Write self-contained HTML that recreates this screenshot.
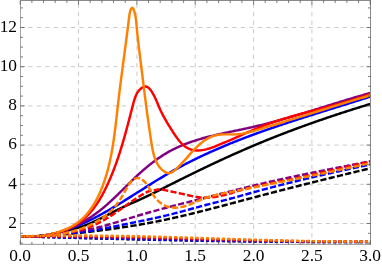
<!DOCTYPE html>
<html><head><meta charset="utf-8"><style>html,body{margin:0;padding:0;background:#fff}svg{display:block}</style></head><body><svg width="382" height="266" viewBox="0 0 382 266">
<rect width="382" height="266" fill="#fff"/>
<path d="M78.5,-4.9V244.5M136.9,-4.9V244.5M195.2,-4.9V244.5M253.6,-4.9V244.5M311.9,-4.9V244.5" stroke="#cacaca" stroke-width="1" stroke-dasharray="4.25 4.25" fill="none"/>
<path d="M19.8,223.5H370.5M19.8,184.3H370.5M19.8,145.1H370.5M19.8,105.9H370.5M19.8,66.7H370.5M19.8,27.5H370.5" stroke="#cacaca" stroke-width="1" stroke-dasharray="4.25 4.25" fill="none"/>
<clipPath id="c"><rect x="20.5" y="0.5" width="350.0" height="244.0"/></clipPath>
<g clip-path="url(#c)" fill="none" stroke-linejoin="round">
<path d="M20.50,236.40L21.45,236.44L22.40,236.48L23.35,236.51L24.30,236.54L25.25,236.57L26.19,236.59L27.14,236.60L28.09,236.61L29.03,236.61L29.98,236.61L30.92,236.60L31.86,236.58L32.81,236.55L33.75,236.52L34.69,236.48L35.63,236.43L36.56,236.37L37.50,236.30L38.44,236.23L39.37,236.14L40.30,236.05L41.23,235.94L42.16,235.83L43.09,235.70L44.02,235.56L44.94,235.41L45.87,235.25L46.79,235.08L47.71,234.91L48.63,234.72L49.55,234.53L50.47,234.34L51.39,234.14L52.31,233.94L53.23,233.74L54.15,233.54L55.07,233.33L55.99,233.13L56.91,232.92L57.84,232.72L58.76,232.51L59.68,232.31L60.60,232.11L61.53,231.90L62.45,231.70L63.37,231.50L64.30,231.30L65.22,231.09L66.15,230.89L67.07,230.68L67.99,230.47L68.91,230.26L69.83,230.04L70.75,229.82L71.67,229.60L72.59,229.37L73.50,229.13L74.41,228.89L75.32,228.64L76.23,228.39L77.14,228.12L78.04,227.85L78.94,227.58L79.84,227.29L80.74,226.99L81.63,226.69L82.52,226.38L83.41,226.06L84.29,225.73L85.17,225.40L86.05,225.06L86.93,224.71L87.81,224.36L88.68,224.00L89.55,223.63L90.42,223.26L91.28,222.88L92.15,222.50L93.01,222.11L93.87,221.72L94.72,221.32L95.58,220.92L96.43,220.52L97.29,220.11L98.14,219.70L98.98,219.28L99.83,218.86L100.68,218.44L101.52,218.02L102.36,217.59L103.20,217.17L104.04,216.74L104.88,216.30L105.72,215.87L106.55,215.44L107.39,215.00L108.23,214.57L109.06,214.13L109.90,213.70L110.74,213.26L111.57,212.83L112.41,212.39L113.24,211.96L114.08,211.53L114.92,211.10L115.76,210.67L116.60,210.25L117.44,209.82L118.28,209.40L119.13,208.98L119.98,208.57L120.82,208.16L121.67,207.75L122.52,207.34L123.38,206.94L124.23,206.55L125.09,206.15L125.95,205.76L126.81,205.37L127.67,204.99L128.54,204.60L129.40,204.22L130.26,203.84L131.13,203.46L131.99,203.08L132.86,202.70L133.72,202.32L134.59,201.94L135.46,201.56L136.32,201.18L137.18,200.79L138.05,200.41L138.91,200.02L139.77,199.64L140.63,199.25L141.49,198.85L142.35,198.46L143.21,198.06L144.06,197.67L144.92,197.26L145.77,196.86L146.63,196.46L147.48,196.05L148.33,195.64L149.18,195.23L150.03,194.82L150.88,194.41L151.73,193.99L152.57,193.58L153.42,193.16L154.27,192.74L155.11,192.33L155.96,191.91L156.80,191.48L157.65,191.06L158.49,190.64L159.33,190.22L160.18,189.79L161.02,189.37L161.86,188.94L162.70,188.52L163.55,188.09L164.39,187.66L165.23,187.24L166.07,186.81L166.91,186.39L167.76,185.96L168.60,185.53L169.44,185.11L170.28,184.68L171.13,184.26L171.97,183.83L172.81,183.41L173.66,182.98L174.50,182.56L175.34,182.13L176.19,181.71L177.03,181.29L177.87,180.86L178.72,180.44L179.56,180.02L180.41,179.60L181.25,179.18L182.10,178.76L182.94,178.34L183.79,177.92L184.64,177.50L185.48,177.08L186.33,176.66L187.17,176.24L188.02,175.82L188.87,175.41L189.72,174.99L190.56,174.57L191.41,174.16L192.26,173.74L193.11,173.33L193.96,172.91L194.80,172.50L195.65,172.08L196.50,171.67L197.35,171.26L198.20,170.85L199.05,170.43L199.90,170.02L200.75,169.61L201.60,169.20L202.45,168.79L203.30,168.38L204.16,167.98L205.01,167.57L205.86,167.16L206.71,166.75L207.56,166.35L208.42,165.94L209.27,165.54L210.12,165.13L210.98,164.73L211.83,164.33L212.68,163.92L213.54,163.52L214.39,163.12L215.25,162.72L216.10,162.32L216.96,161.92L217.81,161.52L218.67,161.12L219.53,160.73L220.38,160.33L221.24,159.93L222.10,159.54L222.96,159.14L223.81,158.75L224.67,158.35L225.53,157.96L226.39,157.57L227.25,157.18L228.11,156.79L228.97,156.40L229.83,156.01L230.69,155.62L231.55,155.23L232.41,154.84L233.27,154.46L234.13,154.07L234.99,153.69L235.86,153.30L236.72,152.92L237.58,152.53L238.45,152.15L239.31,151.77L240.17,151.39L241.04,151.01L241.90,150.63L242.77,150.25L243.63,149.88L244.50,149.50L245.36,149.12L246.23,148.75L247.10,148.37L247.96,148.00L248.83,147.63L249.70,147.26L250.57,146.89L251.44,146.52L252.30,146.15L253.17,145.78L254.04,145.41L254.91,145.04L255.78,144.68L256.65,144.31L257.52,143.95L258.40,143.59L259.27,143.22L260.14,142.86L261.01,142.50L261.88,142.14L262.76,141.78L263.63,141.43L264.50,141.07L265.38,140.71L266.25,140.36L267.13,140.00L268.00,139.65L268.88,139.29L269.75,138.94L270.63,138.59L271.51,138.24L272.38,137.89L273.26,137.54L274.14,137.19L275.02,136.85L275.89,136.50L276.77,136.15L277.65,135.81L278.53,135.46L279.41,135.12L280.29,134.78L281.17,134.44L282.05,134.10L282.93,133.75L283.81,133.42L284.69,133.08L285.58,132.74L286.46,132.40L287.34,132.07L288.22,131.73L289.10,131.40L289.99,131.06L290.87,130.73L291.76,130.40L292.64,130.06L293.52,129.73L294.41,129.40L295.29,129.07L296.18,128.74L297.06,128.42L297.95,128.09L298.84,127.76L299.72,127.44L300.61,127.11L301.50,126.79L302.38,126.47L303.27,126.14L304.16,125.82L305.05,125.50L305.93,125.18L306.82,124.86L307.71,124.54L308.60,124.22L309.49,123.90L310.38,123.59L311.27,123.27L312.16,122.96L313.05,122.64L313.94,122.33L314.83,122.02L315.72,121.70L316.61,121.39L317.51,121.08L318.40,120.77L319.29,120.46L320.18,120.15L321.07,119.84L321.97,119.54L322.86,119.23L323.75,118.92L324.65,118.62L325.54,118.31L326.44,118.01L327.33,117.70L328.22,117.40L329.12,117.10L330.01,116.80L330.91,116.50L331.80,116.20L332.70,115.90L333.60,115.60L334.49,115.30L335.39,115.00L336.29,114.71L337.18,114.41L338.08,114.12L338.98,113.82L339.87,113.53L340.77,113.23L341.67,112.94L342.57,112.65L343.47,112.36L344.36,112.07L345.26,111.78L346.16,111.49L347.06,111.20L347.96,110.91L348.86,110.62L349.76,110.34L350.66,110.05L351.56,109.76L352.46,109.48L353.36,109.19L354.26,108.91L355.16,108.63L356.06,108.34L356.96,108.06L357.86,107.78L358.77,107.50L359.67,107.22L360.57,106.94L361.47,106.66L362.37,106.38L363.28,106.11L364.18,105.83L365.08,105.55L365.99,105.28L366.89,105.00L367.79,104.73L368.70,104.45L369.60,104.18L370.50,103.91" stroke="#000000" stroke-width="2.45"/>
<path d="M20.48,236.41L21.46,236.47L22.45,236.53L23.43,236.57L24.41,236.61L25.39,236.63L26.37,236.65L27.34,236.66L28.31,236.66L29.28,236.65L30.25,236.64L31.22,236.61L32.18,236.57L33.14,236.53L34.10,236.48L35.06,236.42L36.01,236.35L36.97,236.28L37.92,236.19L38.87,236.10L39.81,236.00L40.76,235.89L41.70,235.77L42.64,235.65L43.58,235.52L44.52,235.38L45.46,235.23L46.39,235.08L47.32,234.92L48.25,234.75L49.18,234.58L50.10,234.39L51.03,234.20L51.95,234.01L52.87,233.81L53.79,233.60L54.70,233.38L55.62,233.16L56.53,232.93L57.44,232.69L58.35,232.45L59.26,232.20L60.17,231.95L61.07,231.68L61.97,231.42L62.87,231.14L63.77,230.87L64.67,230.58L65.57,230.29L66.46,230.00L67.35,229.69L68.24,229.39L69.13,229.08L70.02,228.76L70.91,228.44L71.79,228.11L72.67,227.77L73.55,227.44L74.43,227.09L75.31,226.75L76.19,226.39L77.06,226.04L77.94,225.67L78.81,225.31L79.68,224.94L80.55,224.56L81.42,224.18L82.28,223.80L83.15,223.41L84.01,223.02L84.87,222.63L85.73,222.23L86.59,221.82L87.45,221.42L88.30,221.01L89.16,220.59L90.01,220.17L90.86,219.75L91.71,219.33L92.56,218.90L93.41,218.47L94.26,218.04L95.10,217.60L95.95,217.16L96.79,216.72L97.63,216.27L98.47,215.82L99.31,215.37L100.15,214.92L100.99,214.46L101.82,214.01L102.66,213.55L103.49,213.08L104.32,212.62L105.16,212.15L105.99,211.68L106.81,211.21L107.64,210.74L108.47,210.26L109.30,209.78L110.12,209.30L110.95,208.82L111.77,208.34L112.59,207.86L113.41,207.37L114.24,206.88L115.06,206.39L115.88,205.90L116.70,205.41L117.51,204.91L118.33,204.42L119.15,203.92L119.96,203.43L120.78,202.93L121.60,202.43L122.41,201.92L123.22,201.42L124.04,200.92L124.85,200.41L125.66,199.91L126.48,199.40L127.29,198.90L128.10,198.39L128.91,197.88L129.72,197.37L130.53,196.86L131.34,196.35L132.15,195.84L132.96,195.33L133.77,194.82L134.58,194.31L135.39,193.80L136.20,193.29L137.01,192.77L137.82,192.26L138.63,191.75L139.44,191.24L140.25,190.72L141.06,190.21L141.87,189.70L142.67,189.19L143.48,188.68L144.29,188.16L145.10,187.65L145.91,187.14L146.72,186.63L147.53,186.12L148.35,185.62L149.16,185.11L149.97,184.60L150.78,184.09L151.59,183.59L152.40,183.08L153.22,182.58L154.03,182.07L154.84,181.57L155.66,181.07L156.47,180.57L157.29,180.07L158.10,179.57L158.92,179.07L159.74,178.58L160.56,178.09L161.37,177.59L162.19,177.10L163.01,176.61L163.83,176.12L164.66,175.64L165.48,175.15L166.30,174.67L167.12,174.19L167.95,173.71L168.77,173.23L169.60,172.75L170.43,172.28L171.26,171.81L172.09,171.34L172.92,170.87L173.75,170.41L174.58,169.94L175.41,169.48L176.25,169.02L177.08,168.56L177.92,168.11L178.76,167.65L179.59,167.20L180.43,166.75L181.27,166.30L182.11,165.85L182.95,165.41L183.80,164.97L184.64,164.52L185.48,164.09L186.33,163.65L187.17,163.21L188.02,162.78L188.87,162.35L189.72,161.92L190.57,161.49L191.42,161.06L192.27,160.63L193.12,160.21L193.97,159.79L194.82,159.37L195.68,158.95L196.53,158.53L197.39,158.12L198.24,157.71L199.10,157.30L199.96,156.89L200.82,156.48L201.68,156.07L202.54,155.66L203.40,155.26L204.26,154.86L205.12,154.46L205.99,154.06L206.85,153.66L207.71,153.27L208.58,152.87L209.44,152.48L210.31,152.09L211.18,151.70L212.05,151.31L212.92,150.93L213.79,150.54L214.66,150.16L215.53,149.77L216.40,149.39L217.27,149.01L218.14,148.64L219.02,148.26L219.89,147.89L220.76,147.51L221.64,147.14L222.52,146.77L223.39,146.40L224.27,146.03L225.15,145.66L226.03,145.30L226.91,144.93L227.79,144.57L228.67,144.21L229.55,143.85L230.43,143.49L231.31,143.13L232.19,142.78L233.08,142.42L233.96,142.07L234.84,141.71L235.73,141.36L236.61,141.01L237.50,140.66L238.39,140.31L239.27,139.97L240.16,139.62L241.05,139.28L241.94,138.93L242.82,138.59L243.71,138.25L244.60,137.91L245.49,137.57L246.38,137.23L247.28,136.90L248.17,136.56L249.06,136.23L249.95,135.89L250.85,135.56L251.74,135.23L252.63,134.90L253.53,134.57L254.42,134.24L255.32,133.91L256.21,133.58L257.11,133.26L258.01,132.93L258.90,132.61L259.80,132.29L260.70,131.96L261.60,131.64L262.49,131.32L263.39,131.00L264.29,130.69L265.19,130.37L266.09,130.05L266.99,129.74L267.89,129.42L268.79,129.11L269.70,128.79L270.60,128.48L271.50,128.17L272.40,127.86L273.30,127.55L274.21,127.24L275.11,126.93L276.01,126.62L276.92,126.31L277.82,126.01L278.73,125.70L279.63,125.40L280.53,125.09L281.44,124.79L282.35,124.48L283.25,124.18L284.16,123.88L285.06,123.58L285.97,123.28L286.88,122.98L287.78,122.68L288.69,122.38L289.60,122.08L290.50,121.78L291.41,121.49L292.32,121.19L293.23,120.89L294.14,120.60L295.04,120.30L295.95,120.01L296.86,119.72L297.77,119.42L298.68,119.13L299.59,118.84L300.50,118.54L301.41,118.25L302.32,117.96L303.23,117.67L304.14,117.38L305.05,117.09L305.96,116.80L306.87,116.51L307.78,116.22L308.69,115.93L309.60,115.65L310.51,115.36L311.42,115.07L312.33,114.78L313.24,114.50L314.15,114.21L315.06,113.92L315.97,113.64L316.88,113.35L317.79,113.07L318.70,112.78L319.62,112.50L320.53,112.21L321.44,111.93L322.35,111.64L323.26,111.36L324.17,111.07L325.08,110.79L325.99,110.51L326.90,110.22L327.81,109.94L328.73,109.66L329.64,109.37L330.55,109.09L331.46,108.81L332.37,108.52L333.28,108.24L334.19,107.96L335.10,107.68L336.01,107.39L336.92,107.11L337.83,106.83L338.74,106.54L339.65,106.26L340.56,105.98L341.47,105.70L342.38,105.41L343.29,105.13L344.20,104.85L345.11,104.57L346.02,104.28L346.93,104.00L347.84,103.72L348.75,103.43L349.66,103.15L350.57,102.87L351.47,102.58L352.38,102.30L353.29,102.02L354.20,101.73L355.11,101.45L356.01,101.16L356.92,100.88L357.83,100.59L358.74,100.31L359.64,100.02L360.55,99.74L361.46,99.45L362.36,99.17L363.27,98.88L364.17,98.59L365.08,98.31L365.98,98.02L366.89,97.73L367.79,97.44L368.70,97.16L369.60,96.87L370.50,96.58" stroke="#0000ff" stroke-width="2.45"/>
<path d="M20.48,236.38L21.48,236.47L22.47,236.55L23.47,236.62L24.46,236.68L25.45,236.73L26.44,236.77L27.43,236.80L28.42,236.82L29.40,236.83L30.39,236.82L31.37,236.81L32.35,236.79L33.33,236.76L34.30,236.72L35.28,236.66L36.25,236.60L37.22,236.53L38.19,236.45L39.16,236.36L40.12,236.26L41.09,236.15L42.05,236.03L43.01,235.91L43.96,235.77L44.92,235.62L45.87,235.47L46.82,235.30L47.77,235.13L48.72,234.95L49.66,234.76L50.60,234.56L51.54,234.35L52.48,234.13L53.41,233.91L54.35,233.67L55.28,233.43L56.20,233.18L57.13,232.92L58.05,232.65L58.97,232.38L59.89,232.10L60.81,231.80L61.72,231.50L62.63,231.20L63.53,230.88L64.44,230.56L65.34,230.23L66.24,229.89L67.14,229.54L68.03,229.19L68.92,228.82L69.81,228.46L70.69,228.08L71.57,227.70L72.45,227.31L73.33,226.91L74.20,226.50L75.07,226.09L75.94,225.67L76.80,225.24L77.66,224.81L78.52,224.37L79.37,223.92L80.22,223.47L81.07,223.01L81.91,222.54L82.76,222.07L83.59,221.59L84.43,221.11L85.26,220.61L86.09,220.12L86.91,219.61L87.73,219.10L88.55,218.58L89.36,218.06L90.17,217.53L90.98,217.00L91.78,216.46L92.58,215.91L93.37,215.36L94.16,214.80L94.95,214.24L95.74,213.67L96.52,213.10L97.29,212.52L98.07,211.94L98.83,211.35L99.60,210.75L100.36,210.15L101.12,209.55L101.87,208.94L102.62,208.33L103.37,207.71L104.11,207.08L104.85,206.46L105.58,205.83L106.32,205.19L107.05,204.55L107.78,203.91L108.50,203.26L109.22,202.61L109.94,201.96L110.66,201.30L111.37,200.64L112.09,199.98L112.80,199.32L113.51,198.65L114.21,197.98L114.92,197.31L115.62,196.63L116.33,195.96L117.03,195.28L117.73,194.60L118.43,193.92L119.12,193.24L119.82,192.56L120.52,191.87L121.21,191.19L121.91,190.50L122.60,189.81L123.30,189.13L123.99,188.44L124.69,187.75L125.38,187.06L126.08,186.37L126.77,185.69L127.47,185.00L128.17,184.31L128.86,183.63L129.56,182.94L130.26,182.26L130.96,181.57L131.66,180.89L132.36,180.21L133.07,179.53L133.77,178.85L134.48,178.18L135.18,177.50L135.90,176.83L136.61,176.16L137.32,175.50L138.04,174.83L138.76,174.17L139.48,173.51L140.20,172.85L140.93,172.20L141.66,171.55L142.39,170.90L143.12,170.26L143.86,169.62L144.60,168.99L145.34,168.35L146.09,167.72L146.83,167.10L147.59,166.48L148.34,165.86L149.10,165.25L149.86,164.64L150.62,164.04L151.38,163.44L152.15,162.85L152.92,162.26L153.70,161.68L154.47,161.10L155.26,160.52L156.04,159.95L156.82,159.39L157.61,158.83L158.41,158.28L159.20,157.73L160.00,157.19L160.80,156.66L161.61,156.13L162.42,155.61L163.23,155.09L164.04,154.58L164.86,154.08L165.68,153.58L166.51,153.09L167.33,152.60L168.16,152.13L169.00,151.66L169.84,151.19L170.68,150.74L171.52,150.29L172.37,149.85L173.22,149.41L174.08,148.98L174.93,148.56L175.79,148.15L176.66,147.74L177.52,147.34L178.39,146.94L179.27,146.55L180.14,146.17L181.02,145.79L181.90,145.42L182.79,145.06L183.67,144.70L184.56,144.34L185.45,143.99L186.35,143.65L187.24,143.31L188.14,142.98L189.04,142.65L189.95,142.33L190.85,142.01L191.76,141.70L192.67,141.39L193.59,141.09L194.50,140.79L195.42,140.50L196.34,140.21L197.26,139.92L198.18,139.64L199.11,139.36L200.03,139.09L200.96,138.82L201.89,138.55L202.82,138.29L203.75,138.03L204.69,137.78L205.63,137.52L206.56,137.28L207.50,137.03L208.44,136.79L209.39,136.55L210.33,136.31L211.27,136.07L212.22,135.84L213.17,135.61L214.11,135.39L215.06,135.16L216.01,134.94L216.96,134.72L217.91,134.50L218.87,134.28L219.82,134.07L220.77,133.86L221.73,133.64L222.68,133.43L223.64,133.23L224.60,133.02L225.55,132.81L226.51,132.61L227.47,132.40L228.43,132.20L229.39,132.00L230.35,131.80L231.31,131.59L232.26,131.39L233.22,131.19L234.18,130.99L235.14,130.79L236.10,130.59L237.06,130.39L238.02,130.19L238.98,129.99L239.94,129.79L240.90,129.59L241.86,129.39L242.81,129.19L243.77,128.99L244.73,128.78L245.69,128.58L246.64,128.37L247.60,128.17L248.55,127.96L249.51,127.75L250.46,127.54L251.41,127.33L252.36,127.11L253.32,126.90L254.27,126.68L255.21,126.46L256.16,126.24L257.11,126.01L258.06,125.79L259.00,125.56L259.95,125.34L260.89,125.11L261.83,124.88L262.78,124.64L263.72,124.41L264.66,124.17L265.60,123.94L266.54,123.70L267.47,123.46L268.41,123.21L269.35,122.97L270.29,122.73L271.22,122.48L272.16,122.23L273.09,121.98L274.02,121.73L274.96,121.48L275.89,121.23L276.82,120.97L277.75,120.72L278.68,120.46L279.62,120.20L280.55,119.95L281.47,119.69L282.40,119.42L283.33,119.16L284.26,118.90L285.19,118.63L286.11,118.37L287.04,118.10L287.97,117.84L288.89,117.57L289.82,117.30L290.74,117.03L291.67,116.76L292.59,116.48L293.52,116.21L294.44,115.94L295.36,115.66L296.29,115.39L297.21,115.11L298.13,114.84L299.05,114.56L299.98,114.28L300.90,114.00L301.82,113.72L302.74,113.44L303.66,113.16L304.59,112.88L305.51,112.60L306.43,112.32L307.35,112.04L308.27,111.75L309.19,111.47L310.11,111.18L311.03,110.90L311.95,110.62L312.87,110.33L313.80,110.05L314.72,109.76L315.64,109.47L316.56,109.19L317.48,108.90L318.40,108.61L319.32,108.33L320.24,108.04L321.16,107.75L322.08,107.47L323.01,107.18L323.93,106.89L324.85,106.60L325.77,106.32L326.69,106.03L327.62,105.74L328.54,105.45L329.46,105.17L330.39,104.88L331.31,104.59L332.23,104.31L333.16,104.02L334.08,103.73L335.01,103.45L335.93,103.16L336.86,102.87L337.78,102.59L338.71,102.30L339.64,102.02L340.56,101.73L341.49,101.45L342.42,101.16L343.35,100.88L344.28,100.60L345.21,100.31L346.14,100.03L347.07,99.75L348.00,99.47L348.93,99.19L349.86,98.91L350.80,98.63L351.73,98.35L352.66,98.07L353.60,97.80L354.53,97.52L355.47,97.24L356.41,96.97L357.34,96.69L358.28,96.42L359.22,96.15L360.16,95.87L361.10,95.60L362.04,95.33L362.98,95.06L363.93,94.79L364.87,94.53L365.81,94.26L366.76,94.00L367.70,93.73L368.65,93.47L369.60,93.20L370.55,92.94" stroke="#800080" stroke-width="2.45"/>
<path d="M20.50,236.40L21.64,236.47L22.80,236.52L23.96,236.57L25.13,236.60L26.31,236.62L27.49,236.63L28.69,236.62L29.89,236.61L31.10,236.58L32.31,236.54L33.53,236.48L34.75,236.42L35.98,236.34L37.21,236.24L38.44,236.14L39.67,236.02L40.91,235.88L42.15,235.73L43.39,235.57L44.63,235.39L45.87,235.20L47.10,235.00L48.34,234.78L49.57,234.54L50.80,234.29L52.03,234.03L53.26,233.74L54.48,233.45L55.69,233.14L56.90,232.81L58.11,232.46L59.30,232.10L60.50,231.73L61.68,231.33L62.85,230.92L64.02,230.49L65.18,230.05L66.32,229.59L67.46,229.11L68.59,228.61L69.70,228.10L70.80,227.57L71.89,227.02L72.97,226.45L74.03,225.86L75.08,225.26L76.11,224.63L77.13,223.99L78.13,223.33L79.12,222.65L80.09,221.95L81.04,221.23L81.98,220.50L82.90,219.74L83.80,218.97L84.69,218.18L85.57,217.38L86.43,216.56L87.27,215.72L88.10,214.87L88.92,214.00L89.72,213.12L90.51,212.23L91.29,211.32L92.05,210.40L92.80,209.46L93.54,208.52L94.26,207.56L94.97,206.59L95.67,205.61L96.36,204.62L97.04,203.62L97.71,202.61L98.36,201.60L99.00,200.57L99.64,199.53L100.26,198.49L100.88,197.44L101.48,196.38L102.08,195.32L102.66,194.25L103.24,193.18L103.80,192.10L104.36,191.01L104.92,189.92L105.46,188.83L105.99,187.73L106.52,186.63L107.04,185.53L107.56,184.43L108.06,183.32L108.56,182.21L109.06,181.11L109.55,180.00L110.03,178.88L110.50,177.77L110.97,176.66L111.44,175.54L111.90,174.42L112.35,173.31L112.80,172.18L113.24,171.06L113.67,169.94L114.10,168.81L114.53,167.69L114.95,166.56L115.37,165.43L115.78,164.30L116.19,163.17L116.59,162.03L116.99,160.90L117.38,159.76L117.77,158.62L118.16,157.48L118.54,156.34L118.92,155.19L119.29,154.05L119.66,152.90L120.03,151.75L120.39,150.60L120.75,149.45L121.11,148.29L121.46,147.13L121.81,145.98L122.16,144.82L122.51,143.66L122.85,142.49L123.19,141.33L123.53,140.16L123.87,138.99L124.20,137.82L124.53,136.65L124.86,135.47L125.19,134.30L125.52,133.12L125.84,131.94L126.16,130.75L126.48,129.57L126.81,128.38L127.12,127.20L127.44,126.01L127.76,124.81L128.08,123.62L128.39,122.43L128.71,121.23L129.02,120.03L129.34,118.83L129.65,117.62L129.97,116.41L130.28,115.21L130.59,114.00L130.91,112.78L131.22,111.57L131.54,110.35L131.85,109.13L132.17,107.91L132.49,106.69L132.80,105.46L133.12,104.24L133.44,103.01L133.78,101.79L134.12,100.57L134.49,99.37L134.88,98.19L135.30,97.03L135.76,95.89L136.26,94.78L136.80,93.71L137.40,92.68L138.05,91.68L138.76,90.74L139.54,89.84L140.39,89.00L141.32,88.22L142.32,87.53L143.38,86.97L144.45,86.61L145.51,86.53L146.54,86.73L147.55,87.19L148.52,87.86L149.45,88.73L150.35,89.74L151.20,90.86L152.01,92.07L152.77,93.31L153.48,94.56L154.14,95.80L154.74,97.01L155.31,98.20L155.84,99.37L156.34,100.51L156.82,101.64L157.27,102.75L157.72,103.84L158.15,104.91L158.59,105.97L159.03,107.00L159.47,108.03L159.92,109.03L160.37,110.03L160.84,111.01L161.31,111.98L161.78,112.95L162.27,113.91L162.77,114.87L163.27,115.82L163.79,116.77L164.31,117.73L164.85,118.68L165.39,119.64L165.95,120.61L166.52,121.58L167.11,122.57L167.70,123.56L168.31,124.57L168.94,125.59L169.58,126.62L170.24,127.68L170.91,128.75L171.59,129.84L172.30,130.96L173.02,132.08L173.76,133.22L174.51,134.36L175.28,135.50L176.07,136.64L176.88,137.76L177.70,138.86L178.54,139.94L179.39,140.99L180.27,142.01L181.16,142.98L182.06,143.91L182.99,144.79L183.93,145.62L184.89,146.38L185.87,147.07L186.86,147.69L187.88,148.25L188.90,148.73L189.95,149.15L191.00,149.51L192.07,149.80L193.16,150.04L194.26,150.22L195.36,150.35L196.48,150.42L197.61,150.45L198.75,150.42L199.90,150.36L201.05,150.24L202.21,150.09L203.38,149.90L204.55,149.68L205.73,149.42L206.91,149.13L208.10,148.80L209.29,148.46L210.48,148.08L211.67,147.69L212.86,147.27L214.05,146.84L215.24,146.39L216.43,145.93L217.61,145.45L218.79,144.97L219.97,144.48L221.14,143.99L222.31,143.49L223.47,142.99L224.62,142.50L225.77,142.00L226.91,141.50L228.05,141.01L229.18,140.51L230.31,140.01L231.43,139.52L232.55,139.02L233.67,138.53L234.78,138.04L235.89,137.54L236.99,137.05L238.09,136.56L239.19,136.08L240.28,135.59L241.38,135.10L242.47,134.62L243.56,134.14L244.65,133.66L245.73,133.18L246.82,132.70L247.90,132.23L248.98,131.76L250.07,131.29L251.15,130.83L252.24,130.36L253.32,129.90L254.40,129.44L255.49,128.99L256.58,128.54L257.66,128.09L258.75,127.65L259.84,127.21L260.94,126.77L262.03,126.33L263.13,125.90L264.23,125.48L265.34,125.06L266.45,124.64L267.56,124.23L268.67,123.82L269.79,123.41L270.92,123.01L272.04,122.62L273.18,122.23L274.31,121.84L275.45,121.46L276.59,121.08L277.74,120.70L278.88,120.33L280.04,119.96L281.19,119.60L282.35,119.23L283.51,118.88L284.67,118.52L285.84,118.17L287.01,117.82L288.18,117.47L289.35,117.13L290.53,116.79L291.71,116.45L292.89,116.11L294.07,115.78L295.25,115.45L296.44,115.12L297.63,114.79L298.82,114.46L300.01,114.14L301.20,113.82L302.39,113.50L303.59,113.18L304.78,112.86L305.98,112.54L307.18,112.23L308.38,111.91L309.58,111.60L310.78,111.28L311.98,110.97L313.18,110.66L314.38,110.35L315.58,110.04L316.78,109.73L317.98,109.42L319.19,109.10L320.39,108.79L321.59,108.48L322.79,108.17L323.99,107.86L325.19,107.55L326.39,107.24L327.59,106.92L328.78,106.61L329.98,106.29L331.17,105.98L332.37,105.66L333.56,105.34L334.75,105.02L335.94,104.70L337.13,104.38L338.32,104.06L339.50,103.73L340.69,103.40L341.87,103.07L343.05,102.74L344.22,102.41L345.40,102.07L346.57,101.73L347.74,101.39L348.91,101.05L350.07,100.70L351.24,100.35L352.40,100.00L353.55,99.64L354.71,99.28L355.86,98.92L357.00,98.56L358.15,98.19L359.29,97.82L360.42,97.44L361.56,97.06L362.69,96.68L363.81,96.29L364.93,95.90L366.05,95.50L367.16,95.10L368.27,94.70L369.38,94.29L370.48,93.88" stroke="#ff0000" stroke-width="2.45"/>
<path d="M20.50,236.40L22.09,236.49L23.70,236.56L25.33,236.61L26.98,236.62L28.65,236.62L30.33,236.58L32.03,236.52L33.74,236.44L35.47,236.32L37.20,236.18L38.94,236.01L40.68,235.81L42.43,235.58L44.18,235.32L45.92,235.03L47.67,234.71L49.41,234.36L51.15,233.98L52.88,233.56L54.60,233.12L56.31,232.64L58.01,232.12L59.69,231.58L61.36,231.00L63.00,230.38L64.63,229.73L66.24,229.05L67.82,228.33L69.38,227.57L70.91,226.78L72.41,225.95L73.88,225.08L75.31,224.17L76.71,223.23L78.08,222.24L79.41,221.22L80.70,220.16L81.95,219.06L83.17,217.93L84.35,216.76L85.49,215.56L86.60,214.32L87.68,213.06L88.73,211.76L89.74,210.44L90.73,209.10L91.68,207.72L92.60,206.33L93.50,204.91L94.37,203.47L95.21,202.01L96.03,200.54L96.83,199.05L97.60,197.54L98.34,196.01L99.07,194.48L99.77,192.93L100.45,191.38L101.12,189.81L101.76,188.24L102.38,186.65L102.99,185.06L103.57,183.45L104.14,181.84L104.69,180.22L105.23,178.60L105.74,176.96L106.24,175.32L106.73,173.67L107.20,172.02L107.65,170.35L108.09,168.69L108.52,167.01L108.93,165.33L109.33,163.65L109.71,161.96L110.08,160.26L110.45,158.56L110.79,156.86L111.13,155.15L111.46,153.44L111.77,151.73L112.08,150.01L112.38,148.29L112.66,146.57L112.94,144.84L113.21,143.12L113.48,141.39L113.73,139.66L113.98,137.93L114.22,136.20L114.45,134.47L114.68,132.74L114.91,131.01L115.12,129.28L115.34,127.55L115.55,125.82L115.75,124.09L115.96,122.37L116.16,120.64L116.35,118.92L116.55,117.20L116.74,115.48L116.93,113.77L117.13,112.06L117.32,110.35L117.51,108.65L117.70,106.95L117.89,105.26L118.09,103.57L118.28,101.88L118.48,100.20L118.68,98.53L118.88,96.85L119.08,95.18L119.28,93.52L119.48,91.86L119.69,90.20L119.89,88.54L120.10,86.88L120.31,85.23L120.52,83.58L120.73,81.93L120.94,80.28L121.15,78.63L121.36,76.98L121.58,75.34L121.79,73.69L122.01,72.04L122.22,70.39L122.44,68.74L122.66,67.09L122.88,65.44L123.10,63.78L123.32,62.13L123.54,60.47L123.76,58.80L123.98,57.14L124.20,55.47L124.42,53.80L124.64,52.12L124.87,50.44L125.09,48.76L125.31,47.07L125.54,45.38L125.76,43.68L125.98,41.97L126.21,40.26L126.43,38.54L126.65,36.82L126.88,35.09L127.10,33.35L127.32,31.61L127.55,29.86L127.77,28.10L127.99,26.33L128.22,24.55L128.44,22.76L128.66,20.97L128.88,19.17L129.10,17.35L129.33,15.53L129.60,13.74L129.97,12.00L130.48,10.34L131.15,8.85L131.92,7.90L132.68,7.94L133.37,8.95L133.98,10.47L134.50,12.11L134.94,13.80L135.31,15.53L135.62,17.29L135.89,19.08L136.11,20.88L136.30,22.70L136.47,24.52L136.64,26.33L136.80,28.13L136.96,29.91L137.13,31.68L137.30,33.43L137.48,35.17L137.66,36.89L137.85,38.60L138.04,40.30L138.23,41.99L138.42,43.67L138.62,45.34L138.82,47.00L139.02,48.66L139.22,50.31L139.43,51.96L139.63,53.60L139.84,55.25L140.05,56.89L140.25,58.53L140.46,60.17L140.66,61.81L140.87,63.45L141.07,65.10L141.28,66.74L141.48,68.39L141.69,70.04L141.89,71.69L142.09,73.35L142.30,75.00L142.50,76.66L142.71,78.32L142.91,79.98L143.12,81.65L143.32,83.31L143.53,84.98L143.74,86.65L143.94,88.32L144.15,90.00L144.36,91.68L144.57,93.36L144.79,95.04L145.00,96.73L145.21,98.42L145.43,100.11L145.65,101.80L145.87,103.50L146.09,105.20L146.31,106.90L146.54,108.60L146.76,110.31L146.99,112.02L147.22,113.74L147.45,115.46L147.69,117.18L147.92,118.90L148.16,120.63L148.41,122.36L148.65,124.09L148.90,125.83L149.15,127.57L149.40,129.31L149.66,131.06L149.91,132.81L150.18,134.57L150.44,136.33L150.71,138.09L150.98,139.86L151.26,141.63L151.54,143.40L151.82,145.18L152.12,146.95L152.44,148.71L152.78,150.46L153.16,152.19L153.57,153.90L154.02,155.58L154.52,157.23L155.08,158.84L155.69,160.41L156.37,161.93L157.12,163.40L157.95,164.82L158.86,166.18L159.86,167.47L160.95,168.69L162.15,169.84L163.45,170.90L164.85,171.86L166.33,172.62L167.86,173.08L169.42,173.17L170.99,172.78L172.53,171.95L174.05,170.83L175.51,169.57L176.92,168.28L178.26,167.00L179.56,165.71L180.81,164.43L182.01,163.15L183.19,161.88L184.33,160.61L185.45,159.34L186.55,158.08L187.64,156.83L188.72,155.58L189.80,154.34L190.88,153.12L191.97,151.90L193.08,150.69L194.21,149.49L195.37,148.30L196.56,147.13L197.78,145.97L199.05,144.82L200.36,143.70L201.71,142.61L203.09,141.56L204.51,140.55L205.96,139.60L207.45,138.70L208.96,137.88L210.51,137.13L212.08,136.46L213.68,135.89L215.30,135.41L216.94,135.04L218.60,134.77L220.28,134.57L221.98,134.45L223.69,134.38L225.40,134.35L227.13,134.36L228.85,134.38L230.58,134.40L232.31,134.41L234.04,134.40L235.76,134.35L237.47,134.25L239.17,134.09L240.87,133.88L242.55,133.62L244.23,133.31L245.90,132.97L247.57,132.59L249.23,132.19L250.88,131.75L252.53,131.30L254.18,130.83L255.83,130.36L257.48,129.87L259.12,129.39L260.77,128.90L262.41,128.41L264.05,127.93L265.69,127.43L267.34,126.94L268.98,126.45L270.62,125.95L272.26,125.46L273.90,124.96L275.54,124.46L277.18,123.96L278.82,123.46L280.46,122.96L282.09,122.46L283.73,121.96L285.37,121.45L287.00,120.95L288.64,120.44L290.28,119.94L291.91,119.43L293.55,118.92L295.18,118.41L296.82,117.90L298.45,117.40L300.09,116.89L301.72,116.38L303.36,115.87L304.99,115.36L306.63,114.85L308.26,114.33L309.90,113.82L311.53,113.31L313.16,112.80L314.80,112.29L316.43,111.78L318.07,111.27L319.70,110.76L321.33,110.25L322.97,109.74L324.60,109.23L326.24,108.72L327.87,108.21L329.51,107.70L331.14,107.20L332.78,106.69L334.41,106.18L336.05,105.68L337.69,105.17L339.32,104.67L340.96,104.16L342.60,103.66L344.24,103.16L345.87,102.66L347.51,102.16L349.15,101.66L350.79,101.16L352.43,100.67L354.07,100.17L355.71,99.68L357.35,99.18L358.99,98.69L360.63,98.20L362.28,97.72L363.92,97.23L365.56,96.74L367.21,96.26L368.85,95.78L370.50,95.30" stroke="#ff8000" stroke-width="2.45"/>
<path d="M20.50,236.41L21.40,236.42L22.29,236.43L23.19,236.43L24.09,236.44L24.98,236.44L25.88,236.43L26.77,236.43L27.67,236.42L28.56,236.41L29.46,236.40L30.36,236.38L31.25,236.37L32.15,236.35L33.04,236.32L33.94,236.30L34.83,236.27L35.73,236.24L36.62,236.21L37.52,236.18L38.41,236.14L39.31,236.10L40.20,236.06L41.09,236.02L41.99,235.97L42.88,235.93L43.78,235.88L44.67,235.83L45.57,235.78L46.46,235.73L47.35,235.67L48.25,235.61L49.14,235.56L50.04,235.50L50.93,235.44L51.82,235.37L52.72,235.31L53.61,235.24L54.50,235.18L55.40,235.11L56.29,235.04L57.18,234.97L58.07,234.90L58.97,234.83L59.86,234.75L60.75,234.68L61.65,234.60L62.54,234.52L63.43,234.45L64.32,234.37L65.22,234.29L66.11,234.21L67.00,234.13L67.89,234.04L68.78,233.96L69.68,233.88L70.57,233.79L71.46,233.70L72.35,233.62L73.24,233.53L74.14,233.44L75.03,233.35L75.92,233.26L76.81,233.17L77.70,233.07L78.59,232.98L79.48,232.89L80.37,232.79L81.26,232.69L82.16,232.60L83.05,232.50L83.94,232.40L84.83,232.30L85.72,232.20L86.61,232.10L87.50,232.00L88.39,231.89L89.28,231.79L90.17,231.69L91.06,231.58L91.95,231.47L92.84,231.37L93.73,231.26L94.62,231.15L95.51,231.04L96.40,230.93L97.28,230.82L98.17,230.71L99.06,230.60L99.95,230.48L100.84,230.37L101.73,230.25L102.62,230.14L103.51,230.02L104.39,229.91L105.28,229.79L106.17,229.67L107.06,229.55L107.95,229.43L108.83,229.31L109.72,229.19L110.61,229.07L111.50,228.94L112.38,228.82L113.27,228.70L114.16,228.57L115.05,228.45L115.93,228.32L116.82,228.19L117.71,228.06L118.59,227.94L119.48,227.81L120.37,227.68L121.25,227.55L122.14,227.41L123.03,227.28L123.91,227.15L124.80,227.01L125.68,226.88L126.57,226.74L127.45,226.61L128.34,226.47L129.22,226.33L130.11,226.19L130.99,226.05L131.88,225.91L132.76,225.77L133.65,225.63L134.53,225.48L135.42,225.34L136.30,225.19L137.19,225.04L138.07,224.90L138.95,224.75L139.84,224.60L140.72,224.44L141.60,224.29L142.48,224.13L143.37,223.98L144.25,223.82L145.13,223.66L146.01,223.50L146.89,223.34L147.77,223.18L148.66,223.02L149.54,222.85L150.42,222.69L151.30,222.52L152.18,222.36L153.06,222.19L153.94,222.02L154.82,221.85L155.70,221.67L156.58,221.50L157.45,221.33L158.33,221.15L159.21,220.97L160.09,220.80L160.97,220.62L161.85,220.44L162.72,220.26L163.60,220.07L164.48,219.89L165.35,219.71L166.23,219.52L167.11,219.33L167.98,219.15L168.86,218.96L169.73,218.77L170.61,218.58L171.48,218.38L172.36,218.19L173.23,218.00L174.11,217.80L174.98,217.61L175.86,217.41L176.73,217.21L177.60,217.01L178.48,216.81L179.35,216.61L180.22,216.41L181.10,216.21L181.97,216.01L182.84,215.80L183.71,215.60L184.59,215.39L185.46,215.19L186.33,214.98L187.20,214.77L188.07,214.56L188.94,214.35L189.81,214.14L190.69,213.93L191.56,213.72L192.43,213.51L193.30,213.29L194.17,213.08L195.04,212.86L195.91,212.65L196.78,212.43L197.65,212.22L198.52,212.00L199.38,211.78L200.25,211.56L201.12,211.34L201.99,211.12L202.86,210.90L203.73,210.68L204.60,210.46L205.47,210.24L206.33,210.02L207.20,209.79L208.07,209.57L208.94,209.35L209.81,209.12L210.67,208.90L211.54,208.67L212.41,208.45L213.28,208.22L214.14,208.00L215.01,207.77L215.88,207.54L216.75,207.32L217.61,207.09L218.48,206.86L219.35,206.63L220.21,206.40L221.08,206.17L221.95,205.95L222.81,205.72L223.68,205.49L224.55,205.26L225.41,205.03L226.28,204.80L227.15,204.57L228.01,204.34L228.88,204.11L229.74,203.87L230.61,203.64L231.48,203.41L232.34,203.18L233.21,202.95L234.08,202.72L234.94,202.49L235.81,202.26L236.67,202.02L237.54,201.79L238.41,201.56L239.27,201.33L240.14,201.10L241.00,200.87L241.87,200.63L242.74,200.40L243.60,200.17L244.47,199.94L245.33,199.71L246.20,199.48L247.07,199.25L247.93,199.02L248.80,198.79L249.67,198.56L250.53,198.32L251.40,198.09L252.27,197.86L253.13,197.64L254.00,197.41L254.86,197.18L255.73,196.95L256.60,196.72L257.46,196.49L258.33,196.26L259.20,196.03L260.07,195.80L260.93,195.58L261.80,195.35L262.67,195.12L263.53,194.89L264.40,194.67L265.27,194.44L266.13,194.21L267.00,193.99L267.87,193.76L268.74,193.54L269.60,193.31L270.47,193.09L271.34,192.86L272.21,192.63L273.07,192.41L273.94,192.19L274.81,191.96L275.68,191.74L276.54,191.51L277.41,191.29L278.28,191.06L279.15,190.84L280.02,190.62L280.88,190.39L281.75,190.17L282.62,189.95L283.49,189.73L284.36,189.50L285.22,189.28L286.09,189.06L286.96,188.84L287.83,188.62L288.70,188.40L289.57,188.17L290.43,187.95L291.30,187.73L292.17,187.51L293.04,187.29L293.91,187.07L294.78,186.85L295.65,186.63L296.52,186.41L297.38,186.19L298.25,185.97L299.12,185.75L299.99,185.53L300.86,185.31L301.73,185.09L302.60,184.88L303.47,184.66L304.34,184.44L305.21,184.22L306.07,184.00L306.94,183.78L307.81,183.57L308.68,183.35L309.55,183.13L310.42,182.91L311.29,182.70L312.16,182.48L313.03,182.26L313.90,182.05L314.77,181.83L315.64,181.61L316.51,181.40L317.38,181.18L318.25,180.97L319.12,180.75L319.99,180.54L320.86,180.32L321.73,180.10L322.60,179.89L323.47,179.67L324.34,179.46L325.21,179.24L326.08,179.03L326.95,178.82L327.82,178.60L328.69,178.39L329.56,178.17L330.43,177.96L331.30,177.74L332.17,177.53L333.04,177.32L333.91,177.10L334.78,176.89L335.65,176.68L336.52,176.46L337.39,176.25L338.26,176.04L339.14,175.83L340.01,175.61L340.88,175.40L341.75,175.19L342.62,174.98L343.49,174.76L344.36,174.55L345.23,174.34L346.10,174.13L346.97,173.92L347.85,173.70L348.72,173.49L349.59,173.28L350.46,173.07L351.33,172.86L352.20,172.65L353.07,172.44L353.94,172.23L354.82,172.02L355.69,171.80L356.56,171.59L357.43,171.38L358.30,171.17L359.17,170.96L360.04,170.75L360.92,170.54L361.79,170.33L362.66,170.12L363.53,169.91L364.40,169.70L365.28,169.49L366.15,169.28L367.02,169.08L367.89,168.87L368.76,168.66L369.64,168.45L370.51,168.24" stroke="#000000" stroke-width="2.45" stroke-dasharray="6.2 2.3"/>
<path d="M20.50,236.40L21.40,236.44L22.30,236.48L23.20,236.51L24.10,236.53L25.00,236.55L25.90,236.56L26.80,236.56L27.69,236.56L28.59,236.55L29.49,236.54L30.38,236.52L31.28,236.50L32.17,236.47L33.07,236.43L33.96,236.40L34.86,236.35L35.75,236.31L36.65,236.26L37.54,236.20L38.43,236.14L39.33,236.08L40.22,236.02L41.11,235.95L42.01,235.88L42.90,235.81L43.79,235.73L44.68,235.65L45.58,235.57L46.47,235.49L47.36,235.40L48.25,235.32L49.15,235.23L50.04,235.14L50.93,235.05L51.82,234.96L52.71,234.86L53.61,234.77L54.50,234.68L55.39,234.59L56.28,234.49L57.18,234.40L58.07,234.31L58.96,234.21L59.85,234.12L60.75,234.03L61.64,233.94L62.53,233.85L63.43,233.76L64.32,233.67L65.21,233.59L66.11,233.50L67.00,233.41L67.90,233.32L68.79,233.23L69.68,233.15L70.58,233.06L71.47,232.97L72.36,232.88L73.26,232.79L74.15,232.70L75.04,232.61L75.94,232.51L76.83,232.42L77.72,232.32L78.61,232.23L79.51,232.13L80.40,232.03L81.29,231.93L82.18,231.82L83.07,231.72L83.96,231.61L84.85,231.50L85.74,231.39L86.63,231.28L87.52,231.16L88.41,231.05L89.30,230.93L90.18,230.81L91.07,230.68L91.96,230.55L92.84,230.43L93.73,230.29L94.62,230.16L95.50,230.02L96.39,229.88L97.27,229.74L98.15,229.60L99.04,229.45L99.92,229.30L100.80,229.14L101.69,228.99L102.57,228.83L103.45,228.66L104.33,228.50L105.21,228.33L106.09,228.16L106.97,227.99L107.85,227.82L108.73,227.64L109.61,227.47L110.49,227.29L111.37,227.11L112.24,226.93L113.12,226.75L114.00,226.57L114.88,226.38L115.76,226.20L116.64,226.02L117.52,225.83L118.39,225.65L119.27,225.46L120.15,225.28L121.03,225.10L121.91,224.91L122.79,224.73L123.67,224.55L124.55,224.37L125.43,224.19L126.31,224.01L127.19,223.83L128.07,223.65L128.95,223.47L129.83,223.29L130.71,223.11L131.59,222.94L132.47,222.76L133.35,222.58L134.23,222.40L135.11,222.22L135.99,222.04L136.87,221.87L137.75,221.69L138.63,221.51L139.51,221.33L140.39,221.15L141.27,220.97L142.15,220.79L143.03,220.61L143.91,220.43L144.79,220.24L145.67,220.06L146.55,219.88L147.43,219.69L148.31,219.51L149.18,219.32L150.06,219.14L150.94,218.95L151.82,218.76L152.70,218.57L153.57,218.38L154.45,218.19L155.33,218.00L156.21,217.80L157.08,217.61L157.96,217.41L158.83,217.22L159.71,217.02L160.59,216.82L161.46,216.62L162.34,216.42L163.21,216.21L164.08,216.01L164.96,215.80L165.83,215.59L166.70,215.38L167.58,215.17L168.45,214.96L169.32,214.74L170.19,214.52L171.06,214.31L171.93,214.09L172.80,213.86L173.67,213.64L174.54,213.42L175.41,213.19L176.28,212.96L177.15,212.73L178.01,212.50L178.88,212.27L179.75,212.04L180.62,211.81L181.48,211.57L182.35,211.34L183.22,211.10L184.08,210.87L184.95,210.63L185.81,210.40L186.68,210.16L187.55,209.92L188.41,209.68L189.28,209.45L190.15,209.21L191.01,208.97L191.88,208.73L192.74,208.49L193.61,208.26L194.48,208.02L195.34,207.78L196.21,207.55L197.07,207.31L197.94,207.08L198.81,206.84L199.68,206.61L200.54,206.38L201.41,206.15L202.28,205.92L203.15,205.69L204.01,205.46L204.88,205.23L205.75,205.01L206.62,204.78L207.49,204.56L208.36,204.34L209.23,204.12L210.10,203.90L210.97,203.68L211.84,203.46L212.71,203.24L213.58,203.02L214.45,202.81L215.32,202.59L216.20,202.37L217.07,202.15L217.94,201.93L218.81,201.71L219.68,201.49L220.55,201.27L221.42,201.05L222.29,200.83L223.16,200.61L224.03,200.38L224.89,200.16L225.76,199.93L226.63,199.70L227.50,199.47L228.37,199.24L229.23,199.01L230.10,198.77L230.97,198.54L231.83,198.30L232.70,198.07L233.56,197.83L234.43,197.59L235.29,197.35L236.16,197.11L237.02,196.87L237.89,196.63L238.75,196.39L239.62,196.15L240.48,195.91L241.35,195.67L242.21,195.42L243.08,195.18L243.94,194.94L244.81,194.70L245.67,194.45L246.53,194.21L247.40,193.97L248.26,193.72L249.13,193.48L249.99,193.24L250.86,193.00L251.72,192.76L252.59,192.52L253.45,192.28L254.32,192.04L255.18,191.80L256.05,191.56L256.91,191.32L257.78,191.08L258.65,190.85L259.51,190.61L260.38,190.38L261.25,190.14L262.11,189.91L262.98,189.67L263.85,189.44L264.71,189.21L265.58,188.98L266.45,188.74L267.32,188.51L268.18,188.28L269.05,188.05L269.92,187.82L270.79,187.60L271.66,187.37L272.52,187.14L273.39,186.91L274.26,186.69L275.13,186.46L276.00,186.24L276.87,186.01L277.74,185.79L278.61,185.56L279.48,185.34L280.35,185.12L281.22,184.89L282.09,184.67L282.96,184.45L283.83,184.23L284.70,184.01L285.57,183.79L286.44,183.57L287.31,183.35L288.18,183.14L289.05,182.92L289.92,182.70L290.79,182.48L291.67,182.27L292.54,182.05L293.41,181.84L294.28,181.62L295.15,181.41L296.03,181.19L296.90,180.98L297.77,180.77L298.64,180.56L299.51,180.34L300.39,180.13L301.26,179.92L302.13,179.71L303.01,179.50L303.88,179.29L304.75,179.08L305.63,178.87L306.50,178.67L307.37,178.46L308.25,178.25L309.12,178.04L309.99,177.84L310.87,177.63L311.74,177.43L312.62,177.22L313.49,177.02L314.36,176.81L315.24,176.61L316.11,176.40L316.99,176.20L317.86,176.00L318.74,175.80L319.61,175.59L320.49,175.39L321.36,175.19L322.24,174.99L323.11,174.79L323.99,174.59L324.87,174.39L325.74,174.19L326.62,173.99L327.49,173.80L328.37,173.60L329.24,173.40L330.12,173.20L331.00,173.01L331.87,172.81L332.75,172.61L333.63,172.42L334.50,172.22L335.38,172.03L336.26,171.83L337.13,171.64L338.01,171.45L338.89,171.25L339.76,171.06L340.64,170.87L341.52,170.67L342.39,170.48L343.27,170.29L344.15,170.10L345.03,169.91L345.90,169.72L346.78,169.53L347.66,169.34L348.54,169.15L349.41,168.96L350.29,168.77L351.17,168.58L352.05,168.39L352.93,168.20L353.80,168.02L354.68,167.83L355.56,167.64L356.44,167.45L357.32,167.27L358.20,167.08L359.07,166.89L359.95,166.71L360.83,166.52L361.71,166.34L362.59,166.15L363.47,165.97L364.35,165.78L365.23,165.60L366.10,165.42L366.98,165.23L367.86,165.05L368.74,164.87L369.62,164.68L370.50,164.50" stroke="#0000ff" stroke-width="2.45" stroke-dasharray="6.2 2.3"/>
<path d="M20.50,236.40L21.40,236.45L22.31,236.50L23.21,236.54L24.11,236.58L25.02,236.60L25.92,236.62L26.82,236.64L27.72,236.65L28.62,236.65L29.52,236.65L30.42,236.64L31.32,236.62L32.21,236.60L33.11,236.57L34.01,236.54L34.91,236.51L35.80,236.46L36.70,236.42L37.60,236.37L38.49,236.31L39.39,236.25L40.28,236.19L41.18,236.12L42.07,236.05L42.97,235.97L43.86,235.89L44.75,235.80L45.65,235.72L46.54,235.63L47.43,235.53L48.33,235.44L49.22,235.34L50.11,235.23L51.00,235.13L51.90,235.02L52.79,234.91L53.68,234.80L54.57,234.69L55.46,234.57L56.35,234.45L57.25,234.33L58.14,234.21L59.03,234.09L59.92,233.97L60.81,233.84L61.70,233.72L62.60,233.59L63.49,233.46L64.38,233.33L65.27,233.20L66.16,233.07L67.05,232.94L67.94,232.81L68.83,232.68L69.73,232.54L70.62,232.41L71.51,232.27L72.40,232.13L73.29,232.00L74.18,231.86L75.07,231.72L75.96,231.58L76.84,231.44L77.73,231.29L78.62,231.15L79.51,231.01L80.40,230.86L81.28,230.71L82.17,230.57L83.06,230.42L83.94,230.27L84.83,230.12L85.71,229.96L86.60,229.80L87.48,229.64L88.36,229.48L89.25,229.32L90.13,229.15L91.01,228.98L91.89,228.81L92.77,228.63L93.64,228.45L94.52,228.26L95.40,228.07L96.27,227.88L97.14,227.68L98.02,227.48L98.89,227.28L99.76,227.06L100.63,226.85L101.49,226.63L102.36,226.40L103.23,226.17L104.09,225.94L104.95,225.70L105.82,225.45L106.68,225.21L107.54,224.96L108.40,224.71L109.26,224.45L110.12,224.20L110.98,223.94L111.84,223.68L112.69,223.41L113.55,223.15L114.41,222.88L115.27,222.61L116.13,222.35L116.98,222.08L117.84,221.81L118.70,221.54L119.56,221.27L120.41,221.00L121.27,220.73L122.13,220.47L122.99,220.20L123.85,219.93L124.71,219.67L125.57,219.41L126.43,219.14L127.29,218.88L128.15,218.62L129.01,218.36L129.87,218.10L130.74,217.84L131.60,217.59L132.46,217.33L133.32,217.07L134.19,216.82L135.05,216.56L135.91,216.31L136.78,216.05L137.64,215.80L138.50,215.54L139.37,215.29L140.23,215.04L141.10,214.79L141.96,214.54L142.83,214.29L143.69,214.03L144.55,213.78L145.42,213.53L146.28,213.29L147.15,213.04L148.01,212.79L148.88,212.54L149.74,212.29L150.61,212.05L151.48,211.80L152.34,211.56L153.21,211.31L154.07,211.07L154.94,210.82L155.81,210.58L156.67,210.34L157.54,210.10L158.41,209.86L159.27,209.62L160.14,209.38L161.01,209.14L161.87,208.90L162.74,208.67L163.61,208.43L164.48,208.20L165.35,207.96L166.22,207.73L167.08,207.50L167.95,207.27L168.82,207.04L169.69,206.81L170.56,206.58L171.43,206.35L172.30,206.12L173.17,205.90L174.04,205.67L174.91,205.45L175.79,205.23L176.66,205.00L177.53,204.78L178.40,204.56L179.27,204.34L180.14,204.12L181.01,203.90L181.89,203.68L182.76,203.46L183.63,203.24L184.50,203.03L185.37,202.81L186.25,202.59L187.12,202.37L187.99,202.16L188.86,201.94L189.74,201.72L190.61,201.50L191.48,201.29L192.35,201.07L193.22,200.85L194.10,200.64L194.97,200.42L195.84,200.20L196.71,199.98L197.58,199.77L198.45,199.55L199.33,199.33L200.20,199.11L201.07,198.89L201.94,198.67L202.81,198.45L203.68,198.23L204.56,198.01L205.43,197.79L206.30,197.57L207.17,197.35L208.04,197.13L208.91,196.91L209.78,196.69L210.65,196.46L211.52,196.24L212.40,196.02L213.27,195.80L214.14,195.57L215.01,195.35L215.88,195.13L216.75,194.90L217.62,194.68L218.49,194.45L219.36,194.23L220.23,194.01L221.10,193.78L221.98,193.56L222.85,193.33L223.72,193.11L224.59,192.89L225.46,192.66L226.33,192.44L227.20,192.21L228.07,191.99L228.94,191.77L229.81,191.54L230.69,191.32L231.56,191.10L232.43,190.87L233.30,190.65L234.17,190.43L235.04,190.21L235.91,189.99L236.79,189.77L237.66,189.54L238.53,189.32L239.40,189.10L240.27,188.88L241.15,188.66L242.02,188.45L242.89,188.23L243.76,188.01L244.64,187.79L245.51,187.57L246.38,187.36L247.26,187.14L248.13,186.93L249.00,186.71L249.88,186.50L250.75,186.28L251.62,186.07L252.50,185.86L253.37,185.65L254.25,185.43L255.12,185.22L255.99,185.02L256.87,184.81L257.74,184.60L258.62,184.39L259.50,184.18L260.37,183.98L261.25,183.77L262.12,183.57L263.00,183.36L263.87,183.16L264.75,182.96L265.63,182.75L266.50,182.55L267.38,182.35L268.26,182.15L269.13,181.95L270.01,181.75L270.89,181.55L271.77,181.35L272.64,181.15L273.52,180.96L274.40,180.76L275.28,180.56L276.15,180.37L277.03,180.17L277.91,179.98L278.79,179.79L279.67,179.59L280.55,179.40L281.43,179.21L282.30,179.01L283.18,178.82L284.06,178.63L284.94,178.44L285.82,178.25L286.70,178.06L287.58,177.87L288.46,177.68L289.34,177.50L290.22,177.31L291.10,177.12L291.98,176.93L292.86,176.75L293.74,176.56L294.62,176.37L295.50,176.19L296.38,176.00L297.26,175.82L298.14,175.64L299.02,175.45L299.90,175.27L300.78,175.09L301.66,174.90L302.55,174.72L303.43,174.54L304.31,174.36L305.19,174.18L306.07,173.99L306.95,173.81L307.83,173.63L308.71,173.45L309.60,173.27L310.48,173.09L311.36,172.91L312.24,172.74L313.12,172.56L314.01,172.38L314.89,172.20L315.77,172.02L316.65,171.85L317.53,171.67L318.42,171.49L319.30,171.31L320.18,171.14L321.06,170.96L321.94,170.79L322.83,170.61L323.71,170.43L324.59,170.26L325.47,170.08L326.36,169.91L327.24,169.73L328.12,169.56L329.00,169.38L329.89,169.21L330.77,169.03L331.65,168.86L332.53,168.69L333.42,168.51L334.30,168.34L335.18,168.16L336.07,167.99L336.95,167.82L337.83,167.64L338.71,167.47L339.60,167.30L340.48,167.12L341.36,166.95L342.25,166.78L343.13,166.61L344.01,166.43L344.89,166.26L345.78,166.09L346.66,165.91L347.54,165.74L348.42,165.57L349.31,165.40L350.19,165.22L351.07,165.05L351.96,164.88L352.84,164.71L353.72,164.53L354.60,164.36L355.49,164.19L356.37,164.02L357.25,163.84L358.13,163.67L359.02,163.50L359.90,163.32L360.78,163.15L361.66,162.98L362.55,162.81L363.43,162.63L364.31,162.46L365.19,162.29L366.08,162.11L366.96,161.94L367.84,161.77L368.72,161.59L369.60,161.42L370.49,161.24" stroke="#800080" stroke-width="2.45" stroke-dasharray="6.2 2.3"/>
<path d="M20.50,236.40L21.42,236.44L22.35,236.48L23.27,236.52L24.19,236.55L25.12,236.58L26.04,236.60L26.96,236.62L27.88,236.63L28.80,236.63L29.72,236.63L30.64,236.63L31.56,236.62L32.48,236.60L33.39,236.58L34.31,236.56L35.23,236.53L36.14,236.50L37.06,236.46L37.98,236.41L38.89,236.37L39.81,236.31L40.72,236.26L41.63,236.19L42.55,236.13L43.46,236.06L44.37,235.98L45.29,235.90L46.20,235.82L47.11,235.73L48.02,235.64L48.93,235.54L49.84,235.44L50.75,235.34L51.66,235.23L52.57,235.12L53.48,235.00L54.39,234.88L55.29,234.76L56.20,234.63L57.11,234.50L58.02,234.36L58.92,234.22L59.83,234.08L60.74,233.93L61.64,233.78L62.55,233.63L63.45,233.47L64.36,233.31L65.26,233.15L66.17,232.98L67.07,232.81L67.98,232.64L68.88,232.46L69.78,232.28L70.69,232.10L71.59,231.91L72.49,231.72L73.40,231.53L74.30,231.33L75.20,231.13L76.10,230.92L76.99,230.71L77.89,230.49L78.78,230.27L79.68,230.04L80.57,229.81L81.45,229.56L82.34,229.32L83.22,229.06L84.10,228.80L84.98,228.53L85.86,228.25L86.73,227.96L87.60,227.67L88.46,227.36L89.32,227.05L90.18,226.73L91.03,226.39L91.88,226.05L92.73,225.70L93.57,225.34L94.40,224.97L95.24,224.60L96.07,224.21L96.90,223.82L97.72,223.42L98.54,223.01L99.36,222.59L100.17,222.17L100.98,221.74L101.78,221.30L102.59,220.86L103.39,220.41L104.19,219.96L104.98,219.49L105.77,219.03L106.56,218.56L107.34,218.08L108.13,217.60L108.91,217.11L109.69,216.62L110.46,216.13L111.23,215.63L112.00,215.13L112.77,214.62L113.54,214.12L114.30,213.60L115.06,213.09L115.82,212.57L116.58,212.06L117.34,211.53L118.09,211.01L118.85,210.49L119.60,209.96L120.35,209.43L121.10,208.90L121.85,208.38L122.60,207.85L123.35,207.32L124.10,206.79L124.85,206.25L125.60,205.72L126.35,205.20L127.11,204.67L127.86,204.14L128.61,203.61L129.36,203.09L130.11,202.56L130.87,202.04L131.63,201.52L132.38,201.00L133.14,200.49L133.90,199.98L134.66,199.47L135.43,198.96L136.19,198.46L136.96,197.96L137.73,197.46L138.51,196.97L139.28,196.48L140.06,196.00L140.84,195.52L141.63,195.05L142.41,194.58L143.21,194.11L144.00,193.65L144.80,193.20L145.60,192.76L146.41,192.33L147.22,191.92L148.05,191.55L148.89,191.22L149.74,190.94L150.60,190.73L151.48,190.56L152.37,190.43L153.27,190.32L154.17,190.21L155.08,190.08L155.99,189.92L156.90,189.74L157.81,189.58L158.72,189.45L159.63,189.37L160.53,189.36L161.43,189.43L162.33,189.56L163.23,189.74L164.13,189.94L165.02,190.15L165.92,190.35L166.81,190.56L167.71,190.76L168.60,190.95L169.50,191.15L170.39,191.34L171.29,191.53L172.18,191.71L173.08,191.90L173.97,192.09L174.87,192.28L175.76,192.47L176.66,192.66L177.55,192.85L178.45,193.04L179.35,193.24L180.25,193.44L181.14,193.64L182.04,193.85L182.94,194.06L183.84,194.27L184.74,194.48L185.64,194.69L186.54,194.90L187.44,195.10L188.35,195.31L189.25,195.51L190.15,195.71L191.06,195.90L191.96,196.08L192.87,196.26L193.77,196.43L194.68,196.59L195.59,196.75L196.50,196.89L197.40,197.02L198.31,197.14L199.22,197.25L200.13,197.35L201.04,197.43L201.95,197.50L202.87,197.55L203.78,197.59L204.69,197.62L205.60,197.63L206.51,197.63L207.42,197.62L208.33,197.59L209.24,197.55L210.15,197.50L211.06,197.43L211.96,197.35L212.87,197.26L213.77,197.15L214.68,197.03L215.58,196.90L216.48,196.75L217.37,196.59L218.27,196.42L219.16,196.24L220.06,196.05L220.95,195.86L221.84,195.65L222.73,195.43L223.62,195.21L224.50,194.98L225.39,194.74L226.28,194.50L227.16,194.25L228.05,194.00L228.93,193.75L229.82,193.49L230.70,193.23L231.59,192.97L232.47,192.71L233.36,192.44L234.24,192.18L235.12,191.92L236.01,191.66L236.90,191.40L237.78,191.15L238.67,190.90L239.56,190.65L240.44,190.40L241.33,190.16L242.22,189.92L243.11,189.68L244.00,189.44L244.89,189.21L245.78,188.98L246.67,188.75L247.56,188.53L248.45,188.30L249.35,188.08L250.24,187.86L251.13,187.65L252.03,187.43L252.92,187.22L253.81,187.01L254.71,186.80L255.60,186.59L256.50,186.39L257.40,186.19L258.29,185.98L259.19,185.78L260.08,185.59L260.98,185.39L261.88,185.19L262.78,185.00L263.67,184.81L264.57,184.62L265.47,184.42L266.37,184.24L267.27,184.05L268.17,183.86L269.06,183.67L269.96,183.49L270.86,183.31L271.76,183.12L272.66,182.94L273.56,182.76L274.46,182.58L275.36,182.40L276.26,182.22L277.16,182.04L278.06,181.86L278.96,181.68L279.86,181.50L280.76,181.32L281.66,181.14L282.56,180.96L283.46,180.79L284.36,180.61L285.26,180.43L286.17,180.25L287.07,180.07L287.97,179.89L288.87,179.71L289.77,179.54L290.67,179.36L291.57,179.18L292.47,179.00L293.37,178.81L294.27,178.63L295.17,178.45L296.07,178.27L296.97,178.08L297.86,177.90L298.76,177.71L299.66,177.52L300.56,177.34L301.46,177.15L302.36,176.96L303.26,176.77L304.15,176.57L305.05,176.38L305.95,176.19L306.85,175.99L307.74,175.79L308.64,175.60L309.54,175.40L310.44,175.20L311.33,175.00L312.23,174.80L313.12,174.60L314.02,174.40L314.92,174.20L315.81,173.99L316.71,173.79L317.60,173.59L318.50,173.38L319.40,173.18L320.29,172.97L321.19,172.77L322.08,172.56L322.98,172.35L323.87,172.15L324.77,171.94L325.66,171.73L326.56,171.53L327.45,171.32L328.35,171.11L329.24,170.90L330.14,170.70L331.04,170.49L331.93,170.28L332.83,170.07L333.72,169.87L334.62,169.66L335.51,169.45L336.41,169.24L337.30,169.04L338.20,168.83L339.09,168.62L339.99,168.42L340.88,168.21L341.78,168.00L342.67,167.80L343.57,167.60L344.47,167.39L345.36,167.19L346.26,166.98L347.15,166.78L348.05,166.58L348.95,166.38L349.84,166.18L350.74,165.98L351.63,165.78L352.53,165.58L353.43,165.38L354.33,165.19L355.22,164.99L356.12,164.80L357.02,164.60L357.92,164.41L358.81,164.22L359.71,164.03L360.61,163.84L361.51,163.65L362.41,163.46L363.31,163.27L364.20,163.09L365.10,162.90L366.00,162.72L366.90,162.54L367.80,162.36L368.70,162.18L369.60,162.01L370.50,161.83" stroke="#ff0000" stroke-width="2.45" stroke-dasharray="6.2 2.3"/>
<path d="M20.50,236.40L21.48,236.42L22.47,236.43L23.45,236.44L24.43,236.45L25.41,236.46L26.40,236.46L27.38,236.47L28.36,236.46L29.34,236.46L30.32,236.45L31.30,236.44L32.29,236.43L33.27,236.41L34.25,236.39L35.23,236.36L36.21,236.33L37.19,236.30L38.16,236.26L39.14,236.22L40.12,236.18L41.10,236.13L42.08,236.07L43.05,236.02L44.03,235.95L45.00,235.88L45.98,235.81L46.95,235.73L47.93,235.65L48.90,235.56L49.87,235.47L50.85,235.37L51.82,235.26L52.79,235.15L53.76,235.03L54.73,234.91L55.70,234.78L56.67,234.65L57.63,234.51L58.60,234.36L59.56,234.21L60.53,234.05L61.49,233.88L62.46,233.71L63.42,233.52L64.38,233.34L65.34,233.14L66.30,232.94L67.26,232.73L68.22,232.51L69.17,232.29L70.13,232.06L71.08,231.82L72.04,231.57L72.99,231.31L73.94,231.05L74.89,230.78L75.83,230.50L76.78,230.21L77.72,229.91L78.66,229.61L79.60,229.30L80.53,228.97L81.46,228.64L82.39,228.31L83.31,227.96L84.23,227.60L85.15,227.24L86.06,226.86L86.97,226.48L87.87,226.09L88.77,225.69L89.67,225.28L90.56,224.86L91.44,224.43L92.32,223.99L93.19,223.55L94.06,223.09L94.92,222.62L95.77,222.15L96.62,221.66L97.47,221.17L98.30,220.66L99.13,220.15L99.95,219.62L100.77,219.09L101.57,218.54L102.37,217.99L103.16,217.42L103.95,216.85L104.72,216.26L105.49,215.67L106.25,215.06L107.00,214.44L107.74,213.81L108.47,213.18L109.19,212.53L109.91,211.87L110.61,211.19L111.30,210.51L111.99,209.82L112.66,209.12L113.32,208.40L113.97,207.67L114.61,206.94L115.24,206.19L115.86,205.43L116.47,204.65L117.07,203.87L117.65,203.08L118.23,202.27L118.79,201.46L119.35,200.64L119.90,199.82L120.44,198.98L120.97,198.14L121.50,197.30L122.02,196.45L122.53,195.60L123.04,194.74L123.55,193.88L124.04,193.02L124.54,192.16L125.03,191.30L125.52,190.44L126.01,189.59L126.49,188.73L126.98,187.88L127.46,187.03L127.94,186.18L128.43,185.34L128.92,184.51L129.43,183.70L129.97,182.90L130.56,182.13L131.22,181.39L131.94,180.69L132.71,180.04L133.54,179.47L134.39,178.98L135.28,178.58L136.17,178.30L137.08,178.15L137.97,178.13L138.86,178.23L139.73,178.45L140.59,178.78L141.43,179.21L142.23,179.72L143.01,180.30L143.76,180.95L144.47,181.65L145.15,182.40L145.80,183.18L146.42,183.98L147.01,184.80L147.58,185.62L148.13,186.46L148.66,187.30L149.18,188.15L149.69,189.01L150.19,189.86L150.69,190.72L151.18,191.57L151.68,192.42L152.18,193.26L152.69,194.09L153.22,194.92L153.76,195.73L154.31,196.53L154.89,197.31L155.49,198.07L156.12,198.82L156.77,199.54L157.45,200.24L158.14,200.92L158.86,201.58L159.60,202.21L160.37,202.81L161.15,203.38L161.95,203.92L162.77,204.44L163.61,204.92L164.47,205.36L165.34,205.77L166.24,206.14L167.14,206.48L168.07,206.77L169.01,207.03L169.96,207.24L170.92,207.41L171.90,207.54L172.89,207.63L173.88,207.68L174.88,207.70L175.88,207.68L176.89,207.62L177.88,207.54L178.88,207.42L179.87,207.28L180.85,207.11L181.82,206.92L182.78,206.70L183.74,206.47L184.69,206.21L185.63,205.93L186.56,205.63L187.49,205.32L188.41,204.99L189.33,204.66L190.25,204.30L191.16,203.94L192.06,203.57L192.97,203.19L193.87,202.81L194.77,202.42L195.67,202.03L196.57,201.64L197.47,201.24L198.36,200.85L199.26,200.46L200.16,200.07L201.06,199.69L201.97,199.32L202.87,198.95L203.78,198.60L204.70,198.26L205.61,197.92L206.54,197.61L207.46,197.30L208.39,197.01L209.32,196.72L210.26,196.45L211.20,196.18L212.14,195.93L213.09,195.68L214.03,195.44L214.98,195.21L215.94,194.99L216.89,194.77L217.85,194.56L218.80,194.35L219.76,194.14L220.72,193.94L221.68,193.74L222.64,193.55L223.61,193.35L224.57,193.16L225.53,192.97L226.49,192.77L227.45,192.58L228.42,192.39L229.38,192.20L230.34,192.01L231.30,191.81L232.27,191.62L233.23,191.43L234.19,191.24L235.15,191.05L236.11,190.85L237.08,190.66L238.04,190.47L239.00,190.28L239.96,190.09L240.92,189.90L241.89,189.71L242.85,189.51L243.81,189.32L244.77,189.13L245.73,188.94L246.70,188.75L247.66,188.56L248.62,188.37L249.58,188.18L250.54,187.99L251.51,187.80L252.47,187.61L253.43,187.41L254.39,187.22L255.35,187.03L256.32,186.84L257.28,186.65L258.24,186.46L259.20,186.27L260.16,186.08L261.12,185.89L262.09,185.70L263.05,185.51L264.01,185.32L264.97,185.12L265.93,184.93L266.89,184.74L267.86,184.55L268.82,184.36L269.78,184.17L270.74,183.98L271.70,183.79L272.66,183.60L273.62,183.40L274.59,183.21L275.55,183.02L276.51,182.83L277.47,182.64L278.43,182.45L279.39,182.25L280.35,182.06L281.31,181.87L282.28,181.68L283.24,181.49L284.20,181.29L285.16,181.10L286.12,180.91L287.08,180.72L288.04,180.52L289.00,180.33L289.96,180.14L290.92,179.94L291.89,179.75L292.85,179.56L293.81,179.36L294.77,179.17L295.73,178.98L296.69,178.78L297.65,178.59L298.61,178.39L299.57,178.20L300.53,178.00L301.49,177.81L302.45,177.61L303.41,177.42L304.37,177.22L305.33,177.03L306.29,176.83L307.25,176.63L308.21,176.44L309.17,176.24L310.13,176.05L311.09,175.85L312.05,175.65L313.01,175.45L313.97,175.26L314.93,175.06L315.89,174.86L316.85,174.66L317.81,174.46L318.77,174.26L319.73,174.07L320.69,173.87L321.65,173.67L322.61,173.47L323.57,173.27L324.53,173.07L325.49,172.87L326.45,172.67L327.41,172.46L328.37,172.26L329.33,172.06L330.29,171.86L331.24,171.66L332.20,171.45L333.16,171.25L334.12,171.05L335.08,170.84L336.04,170.64L337.00,170.44L337.96,170.23L338.92,170.03L339.87,169.82L340.83,169.62L341.79,169.41L342.75,169.20L343.71,169.00L344.67,168.79L345.62,168.58L346.58,168.38L347.54,168.17L348.50,167.96L349.46,167.75L350.42,167.54L351.37,167.33L352.33,167.12L353.29,166.91L354.25,166.70L355.20,166.49L356.16,166.28L357.12,166.07L358.08,165.86L359.03,165.65L359.99,165.43L360.95,165.22L361.91,165.01L362.86,164.79L363.82,164.58L364.78,164.36L365.74,164.15L366.69,163.93L367.65,163.71L368.61,163.50L369.56,163.28L370.52,163.06" stroke="#ff8000" stroke-width="2.45" stroke-dasharray="6.2 2.3"/>
<path d="M20.50,236.37L21.38,236.40L22.25,236.42L23.13,236.45L24.01,236.47L24.88,236.50L25.76,236.52L26.64,236.55L27.51,236.57L28.39,236.60L29.27,236.62L30.14,236.65L31.02,236.67L31.90,236.70L32.77,236.72L33.65,236.75L34.53,236.77L35.40,236.80L36.28,236.82L37.16,236.85L38.03,236.87L38.91,236.90L39.79,236.92L40.66,236.95L41.54,236.97L42.42,237.00L43.30,237.02L44.17,237.05L45.05,237.07L45.93,237.10L46.80,237.12L47.68,237.15L48.56,237.17L49.43,237.20L50.31,237.22L51.19,237.25L52.06,237.27L52.94,237.29L53.82,237.32L54.69,237.34L55.57,237.37L56.45,237.39L57.32,237.42L58.20,237.44L59.08,237.46L59.95,237.49L60.83,237.51L61.71,237.54L62.59,237.56L63.46,237.58L64.34,237.61L65.22,237.63L66.09,237.66L66.97,237.68L67.85,237.70L68.72,237.73L69.60,237.75L70.48,237.77L71.35,237.80L72.23,237.82L73.11,237.85L73.99,237.87L74.86,237.89L75.74,237.92L76.62,237.94L77.49,237.96L78.37,237.99L79.25,238.01L80.12,238.03L81.00,238.06L81.88,238.08L82.75,238.10L83.63,238.13L84.51,238.15L85.39,238.17L86.26,238.19L87.14,238.22L88.02,238.24L88.89,238.26L89.77,238.29L90.65,238.31L91.52,238.33L92.40,238.35L93.28,238.38L94.16,238.40L95.03,238.42L95.91,238.44L96.79,238.47L97.66,238.49L98.54,238.51L99.42,238.53L100.29,238.56L101.17,238.58L102.05,238.60L102.93,238.62L103.80,238.64L104.68,238.67L105.56,238.69L106.43,238.71L107.31,238.73L108.19,238.75L109.06,238.78L109.94,238.80L110.82,238.82L111.70,238.84L112.57,238.86L113.45,238.88L114.33,238.90L115.20,238.93L116.08,238.95L116.96,238.97L117.84,238.99L118.71,239.01L119.59,239.03L120.47,239.05L121.34,239.07L122.22,239.10L123.10,239.12L123.98,239.14L124.85,239.16L125.73,239.18L126.61,239.20L127.48,239.22L128.36,239.24L129.24,239.26L130.11,239.28L130.99,239.30L131.87,239.32L132.75,239.34L133.62,239.36L134.50,239.38L135.38,239.40L136.25,239.42L137.13,239.44L138.01,239.46L138.89,239.48L139.76,239.50L140.64,239.52L141.52,239.54L142.39,239.56L143.27,239.58L144.15,239.60L145.03,239.62L145.90,239.64L146.78,239.66L147.66,239.68L148.54,239.70L149.41,239.72L150.29,239.74L151.17,239.76L152.04,239.77L152.92,239.79L153.80,239.81L154.68,239.83L155.55,239.85L156.43,239.87L157.31,239.89L158.18,239.91L159.06,239.92L159.94,239.94L160.82,239.96L161.69,239.98L162.57,240.00L163.45,240.02L164.32,240.03L165.20,240.05L166.08,240.07L166.96,240.09L167.83,240.11L168.71,240.12L169.59,240.14L170.47,240.16L171.34,240.18L172.22,240.19L173.10,240.21L173.97,240.23L174.85,240.25L175.73,240.26L176.61,240.28L177.48,240.30L178.36,240.32L179.24,240.33L180.12,240.35L180.99,240.37L181.87,240.38L182.75,240.40L183.62,240.42L184.50,240.43L185.38,240.45L186.26,240.47L187.13,240.48L188.01,240.50L188.89,240.52L189.77,240.53L190.64,240.55L191.52,240.56L192.40,240.58L193.27,240.60L194.15,240.61L195.03,240.63L195.91,240.64L196.78,240.66L197.66,240.67L198.54,240.69L199.42,240.70L200.29,240.72L201.17,240.73L202.05,240.75L202.92,240.76L203.80,240.78L204.68,240.79L205.56,240.81L206.43,240.82L207.31,240.84L208.19,240.85L209.07,240.87L209.94,240.88L210.82,240.90L211.70,240.91L212.57,240.93L213.45,240.94L214.33,240.95L215.21,240.97L216.08,240.98L216.96,240.99L217.84,241.01L218.72,241.02L219.59,241.04L220.47,241.05L221.35,241.06L222.23,241.08L223.10,241.09L223.98,241.10L224.86,241.12L225.73,241.13L226.61,241.14L227.49,241.15L228.37,241.17L229.24,241.18L230.12,241.19L231.00,241.20L231.88,241.22L232.75,241.23L233.63,241.24L234.51,241.25L235.39,241.27L236.26,241.28L237.14,241.29L238.02,241.30L238.89,241.31L239.77,241.32L240.65,241.34L241.53,241.35L242.40,241.36L243.28,241.37L244.16,241.38L245.04,241.39L245.91,241.40L246.79,241.41L247.67,241.43L248.55,241.44L249.42,241.45L250.30,241.46L251.18,241.47L252.06,241.48L252.93,241.49L253.81,241.50L254.69,241.51L255.56,241.52L256.44,241.53L257.32,241.54L258.20,241.55L259.07,241.56L259.95,241.57L260.83,241.58L261.71,241.59L262.58,241.60L263.46,241.61L264.34,241.61L265.22,241.62L266.09,241.63L266.97,241.64L267.85,241.65L268.72,241.66L269.60,241.67L270.48,241.68L271.36,241.68L272.23,241.69L273.11,241.70L273.99,241.71L274.87,241.72L275.74,241.73L276.62,241.73L277.50,241.74L278.38,241.75L279.25,241.76L280.13,241.76L281.01,241.77L281.89,241.78L282.76,241.78L283.64,241.79L284.52,241.80L285.39,241.81L286.27,241.81L287.15,241.82L288.03,241.83L288.90,241.83L289.78,241.84L290.66,241.84L291.54,241.85L292.41,241.86L293.29,241.86L294.17,241.87L295.05,241.87L295.92,241.88L296.80,241.89L297.68,241.89L298.56,241.90L299.43,241.90L300.31,241.91L301.19,241.91L302.07,241.92L302.94,241.92L303.82,241.93L304.70,241.93L305.57,241.94L306.45,241.94L307.33,241.94L308.21,241.95L309.08,241.95L309.96,241.96L310.84,241.96L311.72,241.96L312.59,241.97L313.47,241.97L314.35,241.97L315.23,241.98L316.10,241.98L316.98,241.98L317.86,241.99L318.73,241.99L319.61,241.99L320.49,242.00L321.37,242.00L322.24,242.00L323.12,242.00L324.00,242.00L324.88,242.01L325.75,242.01L326.63,242.01L327.51,242.01L328.39,242.01L329.26,242.02L330.14,242.02L331.02,242.02L331.90,242.02L332.77,242.02L333.65,242.02L334.53,242.02L335.40,242.02L336.28,242.02L337.16,242.03L338.04,242.03L338.91,242.03L339.79,242.03L340.67,242.03L341.55,242.03L342.42,242.03L343.30,242.03L344.18,242.03L345.06,242.03L345.93,242.02L346.81,242.02L347.69,242.02L348.56,242.02L349.44,242.02L350.32,242.02L351.20,242.02L352.07,242.02L352.95,242.02L353.83,242.01L354.71,242.01L355.58,242.01L356.46,242.01L357.34,242.01L358.22,242.00L359.09,242.00L359.97,242.00L360.85,242.00L361.72,241.99L362.60,241.99L363.48,241.99L364.36,241.99L365.23,241.98L366.11,241.98L366.99,241.98L367.87,241.97L368.74,241.97L369.62,241.96L370.50,241.96" stroke="#000000" stroke-width="2.45" stroke-dasharray="3.1 2.2"/>
<path d="M20.50,236.37L21.38,236.40L22.25,236.42L23.13,236.44L24.01,236.46L24.88,236.48L25.76,236.50L26.64,236.52L27.51,236.54L28.39,236.56L29.27,236.59L30.15,236.61L31.02,236.63L31.90,236.65L32.78,236.67L33.65,236.69L34.53,236.71L35.41,236.74L36.28,236.76L37.16,236.78L38.04,236.80L38.91,236.82L39.79,236.84L40.67,236.86L41.54,236.89L42.42,236.91L43.30,236.93L44.18,236.95L45.05,236.97L45.93,236.99L46.81,237.01L47.68,237.04L48.56,237.06L49.44,237.08L50.31,237.10L51.19,237.12L52.07,237.14L52.94,237.16L53.82,237.19L54.70,237.21L55.58,237.23L56.45,237.25L57.33,237.27L58.21,237.29L59.08,237.32L59.96,237.34L60.84,237.36L61.71,237.38L62.59,237.40L63.47,237.42L64.34,237.44L65.22,237.47L66.10,237.49L66.98,237.51L67.85,237.53L68.73,237.55L69.61,237.57L70.48,237.60L71.36,237.62L72.24,237.64L73.11,237.66L73.99,237.68L74.87,237.70L75.75,237.72L76.62,237.75L77.50,237.77L78.38,237.79L79.25,237.81L80.13,237.83L81.01,237.85L81.88,237.87L82.76,237.90L83.64,237.92L84.52,237.94L85.39,237.96L86.27,237.98L87.15,238.00L88.02,238.02L88.90,238.05L89.78,238.07L90.65,238.09L91.53,238.11L92.41,238.13L93.29,238.15L94.16,238.17L95.04,238.19L95.92,238.22L96.79,238.24L97.67,238.26L98.55,238.28L99.43,238.30L100.30,238.32L101.18,238.34L102.06,238.36L102.93,238.38L103.81,238.41L104.69,238.43L105.56,238.45L106.44,238.47L107.32,238.49L108.20,238.51L109.07,238.53L109.95,238.55L110.83,238.57L111.70,238.59L112.58,238.61L113.46,238.64L114.34,238.66L115.21,238.68L116.09,238.70L116.97,238.72L117.84,238.74L118.72,238.76L119.60,238.78L120.48,238.80L121.35,238.82L122.23,238.84L123.11,238.86L123.98,238.88L124.86,238.90L125.74,238.92L126.61,238.94L127.49,238.96L128.37,238.98L129.25,239.01L130.12,239.03L131.00,239.05L131.88,239.07L132.75,239.09L133.63,239.11L134.51,239.13L135.39,239.15L136.26,239.17L137.14,239.19L138.02,239.21L138.89,239.23L139.77,239.25L140.65,239.27L141.53,239.29L142.40,239.31L143.28,239.32L144.16,239.34L145.03,239.36L145.91,239.38L146.79,239.40L147.67,239.42L148.54,239.44L149.42,239.46L150.30,239.48L151.17,239.50L152.05,239.52L152.93,239.54L153.81,239.56L154.68,239.58L155.56,239.60L156.44,239.62L157.31,239.63L158.19,239.65L159.07,239.67L159.95,239.69L160.82,239.71L161.70,239.73L162.58,239.75L163.46,239.77L164.33,239.78L165.21,239.80L166.09,239.82L166.96,239.84L167.84,239.86L168.72,239.88L169.60,239.90L170.47,239.91L171.35,239.93L172.23,239.95L173.10,239.97L173.98,239.99L174.86,240.00L175.74,240.02L176.61,240.04L177.49,240.06L178.37,240.08L179.24,240.09L180.12,240.11L181.00,240.13L181.88,240.15L182.75,240.16L183.63,240.18L184.51,240.20L185.39,240.22L186.26,240.23L187.14,240.25L188.02,240.27L188.89,240.29L189.77,240.30L190.65,240.32L191.53,240.34L192.40,240.35L193.28,240.37L194.16,240.39L195.04,240.40L195.91,240.42L196.79,240.44L197.67,240.45L198.54,240.47L199.42,240.49L200.30,240.50L201.18,240.52L202.05,240.53L202.93,240.55L203.81,240.57L204.68,240.58L205.56,240.60L206.44,240.61L207.32,240.63L208.19,240.65L209.07,240.66L209.95,240.68L210.83,240.69L211.70,240.71L212.58,240.72L213.46,240.74L214.33,240.75L215.21,240.77L216.09,240.78L216.97,240.80L217.84,240.81L218.72,240.83L219.60,240.84L220.48,240.86L221.35,240.87L222.23,240.89L223.11,240.90L223.98,240.92L224.86,240.93L225.74,240.94L226.62,240.96L227.49,240.97L228.37,240.99L229.25,241.00L230.13,241.01L231.00,241.03L231.88,241.04L232.76,241.06L233.63,241.07L234.51,241.08L235.39,241.10L236.27,241.11L237.14,241.12L238.02,241.14L238.90,241.15L239.78,241.16L240.65,241.17L241.53,241.19L242.41,241.20L243.29,241.21L244.16,241.22L245.04,241.24L245.92,241.25L246.79,241.26L247.67,241.27L248.55,241.29L249.43,241.30L250.30,241.31L251.18,241.32L252.06,241.33L252.94,241.34L253.81,241.36L254.69,241.37L255.57,241.38L256.44,241.39L257.32,241.40L258.20,241.41L259.08,241.42L259.95,241.43L260.83,241.44L261.71,241.46L262.59,241.47L263.46,241.48L264.34,241.49L265.22,241.50L266.10,241.51L266.97,241.52L267.85,241.53L268.73,241.54L269.60,241.55L270.48,241.56L271.36,241.57L272.24,241.58L273.11,241.59L273.99,241.59L274.87,241.60L275.75,241.61L276.62,241.62L277.50,241.63L278.38,241.64L279.26,241.65L280.13,241.66L281.01,241.67L281.89,241.67L282.76,241.68L283.64,241.69L284.52,241.70L285.40,241.71L286.27,241.71L287.15,241.72L288.03,241.73L288.91,241.74L289.78,241.74L290.66,241.75L291.54,241.76L292.42,241.77L293.29,241.77L294.17,241.78L295.05,241.79L295.92,241.79L296.80,241.80L297.68,241.81L298.56,241.81L299.43,241.82L300.31,241.82L301.19,241.83L302.07,241.84L302.94,241.84L303.82,241.85L304.70,241.85L305.58,241.86L306.45,241.86L307.33,241.87L308.21,241.87L309.08,241.88L309.96,241.88L310.84,241.89L311.72,241.89L312.59,241.90L313.47,241.90L314.35,241.91L315.23,241.91L316.10,241.91L316.98,241.92L317.86,241.92L318.74,241.93L319.61,241.93L320.49,241.93L321.37,241.94L322.24,241.94L323.12,241.94L324.00,241.95L324.88,241.95L325.75,241.95L326.63,241.95L327.51,241.96L328.39,241.96L329.26,241.96L330.14,241.96L331.02,241.96L331.90,241.97L332.77,241.97L333.65,241.97L334.53,241.97L335.41,241.97L336.28,241.97L337.16,241.97L338.04,241.97L338.91,241.98L339.79,241.98L340.67,241.98L341.55,241.98L342.42,241.98L343.30,241.98L344.18,241.98L345.06,241.98L345.93,241.98L346.81,241.98L347.69,241.98L348.57,241.97L349.44,241.97L350.32,241.97L351.20,241.97L352.07,241.97L352.95,241.97L353.83,241.97L354.71,241.97L355.58,241.96L356.46,241.96L357.34,241.96L358.22,241.96L359.09,241.96L359.97,241.95L360.85,241.95L361.73,241.95L362.60,241.94L363.48,241.94L364.36,241.94L365.23,241.93L366.11,241.93L366.99,241.93L367.87,241.92L368.74,241.92L369.62,241.92L370.50,241.91" stroke="#0000ff" stroke-width="2.45" stroke-dasharray="3.1 2.2"/>
<path d="M20.50,236.40L21.38,236.40L22.25,236.40L23.13,236.41L24.01,236.41L24.89,236.41L25.76,236.42L26.64,236.42L27.52,236.42L28.40,236.43L29.27,236.43L30.15,236.44L31.03,236.44L31.91,236.45L32.78,236.45L33.66,236.46L34.54,236.47L35.41,236.47L36.29,236.48L37.17,236.48L38.05,236.49L38.92,236.50L39.80,236.50L40.68,236.51L41.56,236.52L42.43,236.53L43.31,236.53L44.19,236.54L45.06,236.55L45.94,236.56L46.82,236.57L47.70,236.57L48.57,236.58L49.45,236.59L50.33,236.60L51.21,236.61L52.08,236.62L52.96,236.63L53.84,236.64L54.71,236.65L55.59,236.66L56.47,236.67L57.35,236.68L58.22,236.69L59.10,236.70L59.98,236.71L60.86,236.72L61.73,236.73L62.61,236.74L63.49,236.75L64.36,236.76L65.24,236.77L66.12,236.79L67.00,236.80L67.87,236.81L68.75,236.82L69.63,236.83L70.50,236.85L71.38,236.86L72.26,236.87L73.14,236.88L74.01,236.90L74.89,236.91L75.77,236.92L76.65,236.94L77.52,236.95L78.40,236.96L79.28,236.98L80.15,236.99L81.03,237.00L81.91,237.02L82.79,237.03L83.66,237.05L84.54,237.06L85.42,237.08L86.29,237.09L87.17,237.11L88.05,237.12L88.93,237.13L89.80,237.15L90.68,237.17L91.56,237.18L92.43,237.20L93.31,237.21L94.19,237.23L95.07,237.24L95.94,237.26L96.82,237.27L97.70,237.29L98.57,237.31L99.45,237.32L100.33,237.34L101.21,237.36L102.08,237.37L102.96,237.39L103.84,237.41L104.71,237.42L105.59,237.44L106.47,237.46L107.35,237.47L108.22,237.49L109.10,237.51L109.98,237.53L110.85,237.54L111.73,237.56L112.61,237.58L113.49,237.60L114.36,237.61L115.24,237.63L116.12,237.65L116.99,237.67L117.87,237.69L118.75,237.70L119.63,237.72L120.50,237.74L121.38,237.76L122.26,237.78L123.13,237.80L124.01,237.81L124.89,237.83L125.77,237.85L126.64,237.87L127.52,237.89L128.40,237.91L129.27,237.93L130.15,237.95L131.03,237.97L131.91,237.99L132.78,238.00L133.66,238.02L134.54,238.04L135.41,238.06L136.29,238.08L137.17,238.10L138.05,238.12L138.92,238.14L139.80,238.16L140.68,238.18L141.55,238.20L142.43,238.22L143.31,238.24L144.19,238.26L145.06,238.28L145.94,238.30L146.82,238.32L147.69,238.34L148.57,238.36L149.45,238.38L150.33,238.40L151.20,238.42L152.08,238.44L152.96,238.46L153.83,238.48L154.71,238.50L155.59,238.52L156.46,238.54L157.34,238.56L158.22,238.59L159.10,238.61L159.97,238.63L160.85,238.65L161.73,238.67L162.60,238.69L163.48,238.71L164.36,238.73L165.24,238.75L166.11,238.77L166.99,238.79L167.87,238.81L168.74,238.83L169.62,238.85L170.50,238.88L171.38,238.90L172.25,238.92L173.13,238.94L174.01,238.96L174.88,238.98L175.76,239.00L176.64,239.02L177.52,239.04L178.39,239.06L179.27,239.08L180.15,239.10L181.02,239.13L181.90,239.15L182.78,239.17L183.65,239.19L184.53,239.21L185.41,239.23L186.29,239.25L187.16,239.27L188.04,239.29L188.92,239.31L189.79,239.33L190.67,239.35L191.55,239.38L192.43,239.40L193.30,239.42L194.18,239.44L195.06,239.46L195.93,239.48L196.81,239.50L197.69,239.52L198.57,239.54L199.44,239.56L200.32,239.58L201.20,239.60L202.07,239.62L202.95,239.64L203.83,239.66L204.71,239.68L205.58,239.70L206.46,239.73L207.34,239.75L208.21,239.77L209.09,239.79L209.97,239.81L210.84,239.83L211.72,239.85L212.60,239.87L213.48,239.89L214.35,239.91L215.23,239.93L216.11,239.95L216.98,239.97L217.86,239.99L218.74,240.01L219.62,240.03L220.49,240.05L221.37,240.07L222.25,240.08L223.12,240.10L224.00,240.12L224.88,240.14L225.76,240.16L226.63,240.18L227.51,240.20L228.39,240.22L229.26,240.24L230.14,240.26L231.02,240.28L231.90,240.30L232.77,240.31L233.65,240.33L234.53,240.35L235.40,240.37L236.28,240.39L237.16,240.41L238.04,240.43L238.91,240.44L239.79,240.46L240.67,240.48L241.54,240.50L242.42,240.52L243.30,240.54L244.18,240.55L245.05,240.57L245.93,240.59L246.81,240.61L247.68,240.62L248.56,240.64L249.44,240.66L250.32,240.68L251.19,240.69L252.07,240.71L252.95,240.73L253.82,240.74L254.70,240.76L255.58,240.78L256.46,240.79L257.33,240.81L258.21,240.83L259.09,240.84L259.96,240.86L260.84,240.88L261.72,240.89L262.60,240.91L263.47,240.92L264.35,240.94L265.23,240.96L266.10,240.97L266.98,240.99L267.86,241.00L268.74,241.02L269.61,241.03L270.49,241.05L271.37,241.06L272.24,241.08L273.12,241.09L274.00,241.11L274.88,241.12L275.75,241.13L276.63,241.15L277.51,241.16L278.38,241.18L279.26,241.19L280.14,241.20L281.02,241.22L281.89,241.23L282.77,241.24L283.65,241.26L284.52,241.27L285.40,241.28L286.28,241.30L287.16,241.31L288.03,241.32L288.91,241.33L289.79,241.35L290.67,241.36L291.54,241.37L292.42,241.38L293.30,241.39L294.17,241.40L295.05,241.42L295.93,241.43L296.81,241.44L297.68,241.45L298.56,241.46L299.44,241.47L300.31,241.48L301.19,241.49L302.07,241.50L302.95,241.51L303.82,241.52L304.70,241.53L305.58,241.54L306.46,241.55L307.33,241.56L308.21,241.57L309.09,241.58L309.96,241.59L310.84,241.59L311.72,241.60L312.60,241.61L313.47,241.62L314.35,241.63L315.23,241.63L316.11,241.64L316.98,241.65L317.86,241.66L318.74,241.66L319.61,241.67L320.49,241.68L321.37,241.68L322.25,241.69L323.12,241.70L324.00,241.70L324.88,241.71L325.76,241.71L326.63,241.72L327.51,241.72L328.39,241.73L329.26,241.73L330.14,241.74L331.02,241.74L331.90,241.75L332.77,241.75L333.65,241.75L334.53,241.76L335.41,241.76L336.28,241.76L337.16,241.77L338.04,241.77L338.92,241.77L339.79,241.78L340.67,241.78L341.55,241.78L342.42,241.78L343.30,241.78L344.18,241.79L345.06,241.79L345.93,241.79L346.81,241.79L347.69,241.79L348.57,241.79L349.44,241.79L350.32,241.79L351.20,241.79L352.08,241.79L352.95,241.79L353.83,241.79L354.71,241.79L355.59,241.79L356.46,241.78L357.34,241.78L358.22,241.78L359.10,241.78L359.97,241.78L360.85,241.77L361.73,241.77L362.60,241.77L363.48,241.76L364.36,241.76L365.24,241.76L366.11,241.75L366.99,241.75L367.87,241.74L368.75,241.74L369.62,241.73L370.50,241.73" stroke="#800080" stroke-width="2.45" stroke-dasharray="3.1 2.2"/>
<path d="M20.50,236.41L21.38,236.40L22.25,236.39L23.13,236.37L24.01,236.36L24.89,236.35L25.76,236.34L26.64,236.33L27.52,236.32L28.40,236.31L29.27,236.30L30.15,236.29L31.03,236.28L31.91,236.27L32.78,236.26L33.66,236.25L34.54,236.24L35.42,236.24L36.29,236.23L37.17,236.22L38.05,236.22L38.93,236.21L39.80,236.20L40.68,236.20L41.56,236.19L42.43,236.19L43.31,236.18L44.19,236.18L45.07,236.17L45.94,236.17L46.82,236.17L47.70,236.16L48.58,236.16L49.45,236.16L50.33,236.15L51.21,236.15L52.09,236.15L52.96,236.15L53.84,236.15L54.72,236.15L55.59,236.15L56.47,236.15L57.35,236.15L58.23,236.15L59.10,236.15L59.98,236.15L60.86,236.15L61.74,236.15L62.61,236.15L63.49,236.16L64.37,236.16L65.24,236.16L66.12,236.16L67.00,236.17L67.88,236.17L68.75,236.17L69.63,236.18L70.51,236.18L71.39,236.19L72.26,236.19L73.14,236.20L74.02,236.20L74.89,236.21L75.77,236.21L76.65,236.22L77.53,236.22L78.40,236.23L79.28,236.24L80.16,236.24L81.04,236.25L81.91,236.26L82.79,236.27L83.67,236.28L84.54,236.28L85.42,236.29L86.30,236.30L87.18,236.31L88.05,236.32L88.93,236.33L89.81,236.34L90.68,236.35L91.56,236.36L92.44,236.37L93.32,236.38L94.19,236.39L95.07,236.40L95.95,236.41L96.83,236.42L97.70,236.43L98.58,236.45L99.46,236.46L100.33,236.47L101.21,236.48L102.09,236.49L102.97,236.51L103.84,236.52L104.72,236.53L105.60,236.55L106.47,236.56L107.35,236.57L108.23,236.59L109.11,236.60L109.98,236.62L110.86,236.63L111.74,236.65L112.61,236.66L113.49,236.68L114.37,236.69L115.25,236.71L116.12,236.72L117.00,236.74L117.88,236.75L118.75,236.77L119.63,236.79L120.51,236.80L121.39,236.82L122.26,236.84L123.14,236.85L124.02,236.87L124.89,236.89L125.77,236.90L126.65,236.92L127.53,236.94L128.40,236.96L129.28,236.98L130.16,236.99L131.03,237.01L131.91,237.03L132.79,237.05L133.67,237.07L134.54,237.09L135.42,237.11L136.30,237.12L137.17,237.14L138.05,237.16L138.93,237.18L139.81,237.20L140.68,237.22L141.56,237.24L142.44,237.26L143.31,237.28L144.19,237.30L145.07,237.32L145.95,237.34L146.82,237.36L147.70,237.38L148.58,237.41L149.45,237.43L150.33,237.45L151.21,237.47L152.08,237.49L152.96,237.51L153.84,237.53L154.72,237.55L155.59,237.58L156.47,237.60L157.35,237.62L158.22,237.64L159.10,237.66L159.98,237.69L160.86,237.71L161.73,237.73L162.61,237.75L163.49,237.77L164.36,237.80L165.24,237.82L166.12,237.84L167.00,237.87L167.87,237.89L168.75,237.91L169.63,237.93L170.50,237.96L171.38,237.98L172.26,238.00L173.13,238.03L174.01,238.05L174.89,238.07L175.77,238.10L176.64,238.12L177.52,238.14L178.40,238.17L179.27,238.19L180.15,238.21L181.03,238.24L181.91,238.26L182.78,238.29L183.66,238.31L184.54,238.33L185.41,238.36L186.29,238.38L187.17,238.41L188.05,238.43L188.92,238.45L189.80,238.48L190.68,238.50L191.55,238.53L192.43,238.55L193.31,238.58L194.18,238.60L195.06,238.62L195.94,238.65L196.82,238.67L197.69,238.70L198.57,238.72L199.45,238.75L200.32,238.77L201.20,238.79L202.08,238.82L202.96,238.84L203.83,238.87L204.71,238.89L205.59,238.92L206.46,238.94L207.34,238.96L208.22,238.99L209.09,239.01L209.97,239.04L210.85,239.06L211.73,239.09L212.60,239.11L213.48,239.14L214.36,239.16L215.23,239.18L216.11,239.21L216.99,239.23L217.87,239.26L218.74,239.28L219.62,239.30L220.50,239.33L221.37,239.35L222.25,239.38L223.13,239.40L224.01,239.42L224.88,239.45L225.76,239.47L226.64,239.50L227.51,239.52L228.39,239.54L229.27,239.57L230.14,239.59L231.02,239.62L231.90,239.64L232.78,239.66L233.65,239.69L234.53,239.71L235.41,239.73L236.28,239.76L237.16,239.78L238.04,239.80L238.92,239.83L239.79,239.85L240.67,239.87L241.55,239.89L242.42,239.92L243.30,239.94L244.18,239.96L245.06,239.98L245.93,240.01L246.81,240.03L247.69,240.05L248.56,240.07L249.44,240.10L250.32,240.12L251.19,240.14L252.07,240.16L252.95,240.18L253.83,240.21L254.70,240.23L255.58,240.25L256.46,240.27L257.33,240.29L258.21,240.31L259.09,240.33L259.97,240.36L260.84,240.38L261.72,240.40L262.60,240.42L263.47,240.44L264.35,240.46L265.23,240.48L266.11,240.50L266.98,240.52L267.86,240.54L268.74,240.56L269.61,240.58L270.49,240.60L271.37,240.62L272.25,240.64L273.12,240.66L274.00,240.68L274.88,240.69L275.75,240.71L276.63,240.73L277.51,240.75L278.39,240.77L279.26,240.79L280.14,240.80L281.02,240.82L281.89,240.84L282.77,240.86L283.65,240.88L284.53,240.89L285.40,240.91L286.28,240.93L287.16,240.94L288.03,240.96L288.91,240.98L289.79,240.99L290.67,241.01L291.54,241.03L292.42,241.04L293.30,241.06L294.17,241.07L295.05,241.09L295.93,241.10L296.81,241.12L297.68,241.13L298.56,241.15L299.44,241.16L300.32,241.18L301.19,241.19L302.07,241.20L302.95,241.22L303.82,241.23L304.70,241.24L305.58,241.26L306.46,241.27L307.33,241.28L308.21,241.30L309.09,241.31L309.96,241.32L310.84,241.33L311.72,241.34L312.60,241.35L313.47,241.37L314.35,241.38L315.23,241.39L316.10,241.40L316.98,241.41L317.86,241.42L318.74,241.43L319.61,241.44L320.49,241.45L321.37,241.46L322.25,241.47L323.12,241.47L324.00,241.48L324.88,241.49L325.75,241.50L326.63,241.51L327.51,241.52L328.39,241.52L329.26,241.53L330.14,241.54L331.02,241.54L331.90,241.55L332.77,241.56L333.65,241.56L334.53,241.57L335.40,241.57L336.28,241.58L337.16,241.58L338.04,241.59L338.91,241.59L339.79,241.60L340.67,241.60L341.55,241.60L342.42,241.61L343.30,241.61L344.18,241.61L345.06,241.61L345.93,241.62L346.81,241.62L347.69,241.62L348.56,241.62L349.44,241.62L350.32,241.62L351.20,241.62L352.07,241.62L352.95,241.62L353.83,241.62L354.71,241.62L355.58,241.62L356.46,241.62L357.34,241.62L358.22,241.62L359.09,241.62L359.97,241.61L360.85,241.61L361.73,241.61L362.60,241.60L363.48,241.60L364.36,241.60L365.23,241.59L366.11,241.59L366.99,241.58L367.87,241.58L368.74,241.57L369.62,241.57L370.50,241.56" stroke="#ff0000" stroke-width="2.45" stroke-dasharray="3.1 2.2"/>
<path d="M20.50,236.43L21.38,236.40L22.25,236.37L23.13,236.35L24.01,236.32L24.89,236.29L25.76,236.27L26.64,236.24L27.52,236.22L28.39,236.19L29.27,236.17L30.15,236.15L31.03,236.12L31.90,236.10L32.78,236.08L33.66,236.06L34.53,236.04L35.41,236.02L36.29,236.00L37.17,235.98L38.04,235.96L38.92,235.94L39.80,235.92L40.68,235.90L41.55,235.89L42.43,235.87L43.31,235.85L44.18,235.84L45.06,235.82L45.94,235.81L46.82,235.79L47.69,235.78L48.57,235.77L49.45,235.75L50.33,235.74L51.20,235.73L52.08,235.72L52.96,235.71L53.83,235.69L54.71,235.68L55.59,235.67L56.47,235.66L57.34,235.65L58.22,235.65L59.10,235.64L59.97,235.63L60.85,235.62L61.73,235.61L62.61,235.61L63.48,235.60L64.36,235.60L65.24,235.59L66.11,235.58L66.99,235.58L67.87,235.57L68.75,235.57L69.62,235.57L70.50,235.56L71.38,235.56L72.26,235.56L73.13,235.56L74.01,235.55L74.89,235.55L75.76,235.55L76.64,235.55L77.52,235.55L78.40,235.55L79.27,235.55L80.15,235.55L81.03,235.55L81.90,235.55L82.78,235.56L83.66,235.56L84.54,235.56L85.41,235.56L86.29,235.57L87.17,235.57L88.04,235.57L88.92,235.58L89.80,235.58L90.68,235.59L91.55,235.59L92.43,235.60L93.31,235.60L94.18,235.61L95.06,235.62L95.94,235.62L96.82,235.63L97.69,235.64L98.57,235.64L99.45,235.65L100.32,235.66L101.20,235.67L102.08,235.68L102.96,235.69L103.83,235.70L104.71,235.71L105.59,235.72L106.46,235.73L107.34,235.74L108.22,235.75L109.10,235.76L109.97,235.77L110.85,235.78L111.73,235.79L112.61,235.81L113.48,235.82L114.36,235.83L115.24,235.85L116.11,235.86L116.99,235.87L117.87,235.89L118.75,235.90L119.62,235.91L120.50,235.93L121.38,235.94L122.25,235.96L123.13,235.97L124.01,235.99L124.89,236.01L125.76,236.02L126.64,236.04L127.52,236.06L128.39,236.07L129.27,236.09L130.15,236.11L131.03,236.12L131.90,236.14L132.78,236.16L133.66,236.18L134.53,236.20L135.41,236.21L136.29,236.23L137.16,236.25L138.04,236.27L138.92,236.29L139.80,236.31L140.67,236.33L141.55,236.35L142.43,236.37L143.30,236.39L144.18,236.41L145.06,236.43L145.94,236.45L146.81,236.47L147.69,236.49L148.57,236.52L149.44,236.54L150.32,236.56L151.20,236.58L152.08,236.60L152.95,236.63L153.83,236.65L154.71,236.67L155.58,236.69L156.46,236.72L157.34,236.74L158.22,236.76L159.09,236.79L159.97,236.81L160.85,236.83L161.72,236.86L162.60,236.88L163.48,236.91L164.36,236.93L165.23,236.95L166.11,236.98L166.99,237.00L167.86,237.03L168.74,237.05L169.62,237.08L170.50,237.10L171.37,237.13L172.25,237.15L173.13,237.18L174.00,237.21L174.88,237.23L175.76,237.26L176.64,237.28L177.51,237.31L178.39,237.33L179.27,237.36L180.14,237.39L181.02,237.41L181.90,237.44L182.78,237.47L183.65,237.49L184.53,237.52L185.41,237.55L186.28,237.57L187.16,237.60L188.04,237.63L188.92,237.66L189.79,237.68L190.67,237.71L191.55,237.74L192.42,237.76L193.30,237.79L194.18,237.82L195.06,237.85L195.93,237.87L196.81,237.90L197.69,237.93L198.56,237.96L199.44,237.99L200.32,238.01L201.20,238.04L202.07,238.07L202.95,238.10L203.83,238.13L204.70,238.15L205.58,238.18L206.46,238.21L207.33,238.24L208.21,238.27L209.09,238.29L209.97,238.32L210.84,238.35L211.72,238.38L212.60,238.41L213.47,238.44L214.35,238.46L215.23,238.49L216.11,238.52L216.98,238.55L217.86,238.58L218.74,238.60L219.61,238.63L220.49,238.66L221.37,238.69L222.25,238.72L223.12,238.75L224.00,238.77L224.88,238.80L225.75,238.83L226.63,238.86L227.51,238.89L228.39,238.91L229.26,238.94L230.14,238.97L231.02,239.00L231.89,239.03L232.77,239.05L233.65,239.08L234.53,239.11L235.40,239.14L236.28,239.17L237.16,239.19L238.03,239.22L238.91,239.25L239.79,239.28L240.67,239.30L241.54,239.33L242.42,239.36L243.30,239.38L244.17,239.41L245.05,239.44L245.93,239.47L246.81,239.49L247.68,239.52L248.56,239.55L249.44,239.57L250.31,239.60L251.19,239.63L252.07,239.65L252.95,239.68L253.82,239.70L254.70,239.73L255.58,239.76L256.45,239.78L257.33,239.81L258.21,239.83L259.09,239.86L259.96,239.88L260.84,239.91L261.72,239.93L262.59,239.96L263.47,239.98L264.35,240.01L265.23,240.03L266.10,240.06L266.98,240.08L267.86,240.11L268.73,240.13L269.61,240.16L270.49,240.18L271.37,240.20L272.24,240.23L273.12,240.25L274.00,240.27L274.87,240.30L275.75,240.32L276.63,240.34L277.51,240.36L278.38,240.39L279.26,240.41L280.14,240.43L281.02,240.45L281.89,240.48L282.77,240.50L283.65,240.52L284.52,240.54L285.40,240.56L286.28,240.58L287.16,240.60L288.03,240.62L288.91,240.64L289.79,240.66L290.66,240.68L291.54,240.70L292.42,240.72L293.30,240.74L294.17,240.76L295.05,240.78L295.93,240.80L296.80,240.82L297.68,240.84L298.56,240.86L299.44,240.87L300.31,240.89L301.19,240.91L302.07,240.93L302.94,240.94L303.82,240.96L304.70,240.98L305.58,240.99L306.45,241.01L307.33,241.02L308.21,241.04L309.09,241.06L309.96,241.07L310.84,241.09L311.72,241.10L312.59,241.11L313.47,241.13L314.35,241.14L315.23,241.16L316.10,241.17L316.98,241.18L317.86,241.20L318.73,241.21L319.61,241.22L320.49,241.23L321.37,241.24L322.24,241.26L323.12,241.27L324.00,241.28L324.88,241.29L325.75,241.30L326.63,241.31L327.51,241.32L328.38,241.33L329.26,241.34L330.14,241.35L331.02,241.36L331.89,241.36L332.77,241.37L333.65,241.38L334.53,241.39L335.40,241.39L336.28,241.40L337.16,241.41L338.03,241.41L338.91,241.42L339.79,241.43L340.67,241.43L341.54,241.44L342.42,241.44L343.30,241.44L344.17,241.45L345.05,241.45L345.93,241.45L346.81,241.46L347.68,241.46L348.56,241.46L349.44,241.46L350.32,241.47L351.19,241.47L352.07,241.47L352.95,241.47L353.82,241.47L354.70,241.47L355.58,241.47L356.46,241.47L357.33,241.46L358.21,241.46L359.09,241.46L359.97,241.46L360.84,241.46L361.72,241.45L362.60,241.45L363.48,241.44L364.35,241.44L365.23,241.44L366.11,241.43L366.98,241.42L367.86,241.42L368.74,241.41L369.62,241.41L370.49,241.40" stroke="#ff8000" stroke-width="2.45" stroke-dasharray="3.1 2.2"/>
</g>
<path d="M20.0,0.5H371.0M370.5,0.5V244.5" fill="none" stroke="#8a8a8a" stroke-width="1"/>
<path d="M20.5,0.5V244.5" fill="none" stroke="#a4a4a4" stroke-width="1"/>
<path d="M20.0,244.35H371.0" fill="none" stroke="#999" stroke-width="1"/>
<path d="M20.2,244.5v-4.2M20.2,0.5v4.2M31.9,244.5v-2.5M31.9,0.5v2.5M43.5,244.5v-2.5M43.5,0.5v2.5M55.2,244.5v-2.5M55.2,0.5v2.5M66.9,244.5v-2.5M66.9,0.5v2.5M78.5,244.5v-4.2M78.5,0.5v4.2M90.2,244.5v-2.5M90.2,0.5v2.5M101.9,244.5v-2.5M101.9,0.5v2.5M113.5,244.5v-2.5M113.5,0.5v2.5M125.2,244.5v-2.5M125.2,0.5v2.5M136.9,244.5v-4.2M136.9,0.5v4.2M148.5,244.5v-2.5M148.5,0.5v2.5M160.2,244.5v-2.5M160.2,0.5v2.5M171.9,244.5v-2.5M171.9,0.5v2.5M183.6,244.5v-2.5M183.6,0.5v2.5M195.2,244.5v-4.2M195.2,0.5v4.2M206.9,244.5v-2.5M206.9,0.5v2.5M218.6,244.5v-2.5M218.6,0.5v2.5M230.2,244.5v-2.5M230.2,0.5v2.5M241.9,244.5v-2.5M241.9,0.5v2.5M253.6,244.5v-4.2M253.6,0.5v4.2M265.2,244.5v-2.5M265.2,0.5v2.5M276.9,244.5v-2.5M276.9,0.5v2.5M288.6,244.5v-2.5M288.6,0.5v2.5M300.2,244.5v-2.5M300.2,0.5v2.5M311.9,244.5v-4.2M311.9,0.5v4.2M323.6,244.5v-2.5M323.6,0.5v2.5M335.2,244.5v-2.5M335.2,0.5v2.5M346.9,244.5v-2.5M346.9,0.5v2.5M358.6,244.5v-2.5M358.6,0.5v2.5M370.2,244.5v-4.2M370.2,0.5v4.2M20.5,243.1h2.5M370.5,243.1h-2.5M20.5,233.3h2.5M370.5,233.3h-2.5M20.5,223.5h4.2M370.5,223.5h-4.2M20.5,213.7h2.5M370.5,213.7h-2.5M20.5,203.9h2.5M370.5,203.9h-2.5M20.5,194.1h2.5M370.5,194.1h-2.5M20.5,184.3h4.2M370.5,184.3h-4.2M20.5,174.5h2.5M370.5,174.5h-2.5M20.5,164.7h2.5M370.5,164.7h-2.5M20.5,154.9h2.5M370.5,154.9h-2.5M20.5,145.1h4.2M370.5,145.1h-4.2M20.5,135.3h2.5M370.5,135.3h-2.5M20.5,125.5h2.5M370.5,125.5h-2.5M20.5,115.7h2.5M370.5,115.7h-2.5M20.5,105.9h4.2M370.5,105.9h-4.2M20.5,96.1h2.5M370.5,96.1h-2.5M20.5,86.3h2.5M370.5,86.3h-2.5M20.5,76.5h2.5M370.5,76.5h-2.5M20.5,66.7h4.2M370.5,66.7h-4.2M20.5,56.9h2.5M370.5,56.9h-2.5M20.5,47.1h2.5M370.5,47.1h-2.5M20.5,37.3h2.5M370.5,37.3h-2.5M20.5,27.5h4.2M370.5,27.5h-4.2M20.5,17.7h2.5M370.5,17.7h-2.5M20.5,7.9h2.5M370.5,7.9h-2.5" stroke="#505050" stroke-width="0.75" fill="none"/>
<g font-family="Liberation Serif, serif" font-size="16.4" fill="#000" opacity="0.999">
<text transform="translate(20.2,260.6) scale(1.06,1)" text-anchor="middle">0.0</text>
<text transform="translate(78.5,260.6) scale(1.06,1)" text-anchor="middle">0.5</text>
<text transform="translate(136.9,260.6) scale(1.06,1)" text-anchor="middle">1.0</text>
<text transform="translate(195.2,260.6) scale(1.06,1)" text-anchor="middle">1.5</text>
<text transform="translate(253.6,260.6) scale(1.06,1)" text-anchor="middle">2.0</text>
<text transform="translate(311.9,260.6) scale(1.06,1)" text-anchor="middle">2.5</text>
<text transform="translate(370.2,260.6) scale(1.06,1)" text-anchor="middle">3.0</text>
<text transform="translate(17.0,227.8) scale(1.06,1)" text-anchor="end">2</text>
<text transform="translate(17.0,188.6) scale(1.06,1)" text-anchor="end">4</text>
<text transform="translate(17.0,149.4) scale(1.06,1)" text-anchor="end">6</text>
<text transform="translate(17.0,110.2) scale(1.06,1)" text-anchor="end">8</text>
<text transform="translate(17.0,71.0) scale(1.06,1)" text-anchor="end">10</text>
<text transform="translate(17.0,31.8) scale(1.06,1)" text-anchor="end">12</text>
</g>
</svg></body></html>
